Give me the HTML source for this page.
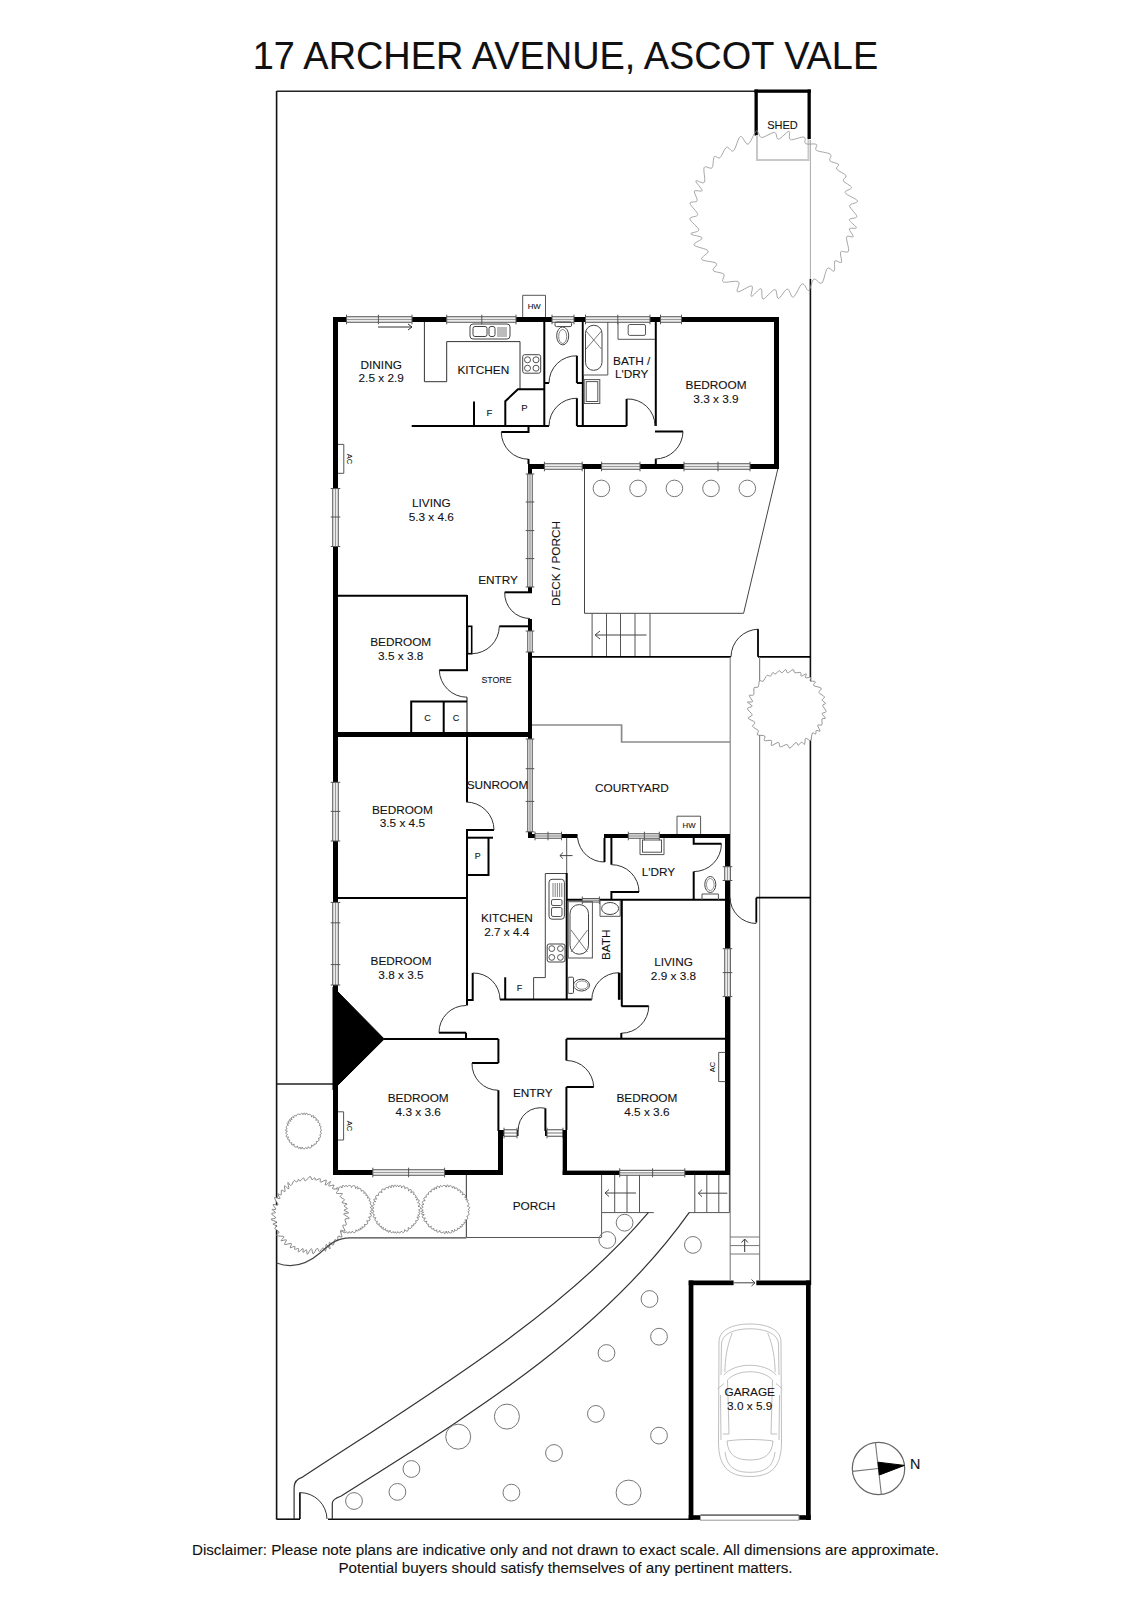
<!DOCTYPE html>
<html><head><meta charset="utf-8"><style>
html,body{margin:0;padding:0;background:#fff;}
body{width:1131px;height:1600px;overflow:hidden;}
svg{display:block;font-family:"Liberation Sans",sans-serif;}
text{stroke:#111;stroke-width:0.1px;paint-order:stroke;}
</style></head><body>
<svg width="1131" height="1600" viewBox="0 0 1131 1600">
<line x1="276.6" y1="91" x2="276.6" y2="1519.5" stroke="#111" stroke-width="1.6"/>
<line x1="276.6" y1="91.3" x2="756" y2="91.3" stroke="#222" stroke-width="1.4"/>
<line x1="810.4" y1="140" x2="810.4" y2="279" stroke="#aaa" stroke-width="1"/>
<line x1="810.4" y1="279" x2="810.4" y2="1285" stroke="#111" stroke-width="1.6"/>
<line x1="276.6" y1="1519.2" x2="300" y2="1519.2" stroke="#111" stroke-width="1.6"/>
<line x1="328" y1="1519.2" x2="689" y2="1519.2" stroke="#111" stroke-width="1.6"/>
<rect x="754.5" y="89.5" width="56.3" height="3.3" fill="#000"/>
<rect x="754.5" y="89.5" width="3.3" height="46.0" fill="#000"/>
<rect x="807.5" y="89.5" width="3.3" height="49.5" fill="#000"/>
<polyline points="757,135 757,160 808.5,160 808.5,139" fill="none" stroke="#c8c8c8" stroke-width="2" stroke-linejoin="miter"/>
<text x="782.5" y="128.7" font-size="11" text-anchor="middle" fill="#111">SHED</text>
<line x1="276.6" y1="1084" x2="333" y2="1084" stroke="#222" stroke-width="1.4"/>
<path d="M829.9,160.8 C831.3,162.5 837.3,162.9 838.5,164.3 C839.6,165.7 835.4,167.2 836.7,169.1 C837.9,171.0 844.8,173.7 846.0,175.6 C847.1,177.6 842.4,178.9 843.3,180.9 C844.2,182.8 851.2,185.5 851.5,187.5 C851.8,189.4 844.1,190.5 845.1,192.7 C846.1,195.0 856.8,198.8 857.6,201.0 C858.3,203.2 849.9,203.2 849.7,205.8 C849.6,208.4 856.8,214.1 856.8,216.5 C856.7,218.8 849.4,217.9 849.4,219.8 C849.3,221.7 856.4,226.2 856.4,227.7 C856.4,229.2 849.9,227.4 849.3,228.9 C848.8,230.4 853.7,235.3 853.3,236.7 C852.8,238.0 847.4,234.6 846.6,237.0 C845.8,239.4 849.5,248.8 848.5,251.2 C847.5,253.7 841.9,250.0 840.7,251.9 C839.5,253.7 842.4,260.8 841.5,262.3 C840.5,263.8 836.1,259.5 834.9,261.0 C833.7,262.5 835.4,269.9 834.1,271.1 C832.9,272.4 829.4,266.4 827.4,268.4 C825.3,270.4 824.1,281.2 821.8,283.0 C819.5,284.8 816.0,277.9 813.8,279.2 C811.6,280.4 810.6,289.8 808.7,290.5 C806.8,291.3 804.8,282.8 802.2,283.9 C799.6,285.0 795.8,296.2 793.3,297.1 C790.8,297.9 789.8,288.9 787.3,289.1 C784.8,289.3 780.5,298.4 778.4,298.5 C776.3,298.6 777.3,289.4 774.8,289.5 C772.2,289.6 765.5,299.0 763.2,298.9 C760.8,298.7 762.9,289.1 760.9,288.7 C758.9,288.3 752.9,296.8 751.4,296.3 C749.8,295.9 754.0,286.8 751.7,286.0 C749.4,285.3 739.8,292.5 737.6,291.8 C735.4,291.1 740.8,283.4 738.4,281.8 C736.0,280.1 725.7,283.2 723.3,281.9 C720.8,280.7 725.5,276.1 723.8,274.2 C722.2,272.3 714.5,272.4 713.2,270.5 C711.9,268.7 718.2,265.2 716.2,263.3 C714.3,261.4 702.9,261.4 701.6,259.3 C700.2,257.3 709.3,253.3 708.1,250.9 C706.8,248.5 695.0,247.1 694.0,245.0 C693.0,242.8 702.7,239.9 702.2,238.0 C701.7,236.2 691.4,235.3 690.8,233.9 C690.3,232.5 698.9,232.3 698.8,229.8 C698.6,227.2 690.0,221.4 689.9,218.8 C689.7,216.3 697.7,217.2 697.7,214.6 C697.8,212.1 690.1,205.6 690.0,203.3 C689.9,201.0 696.5,202.8 697.2,200.8 C697.9,198.8 693.6,192.9 694.4,191.2 C695.2,189.5 701.8,192.3 702.1,190.6 C702.3,188.9 695.4,182.3 695.8,180.9 C696.2,179.5 703.0,184.5 704.4,182.2 C705.8,180.0 702.9,169.9 704.2,167.5 C705.4,165.1 710.3,169.6 712.0,167.8 C713.6,166.0 712.9,158.4 714.3,156.7 C715.6,155.0 717.9,159.3 720.0,157.7 C722.0,156.2 724.3,148.5 726.5,147.3 C728.8,146.2 731.1,152.6 733.4,150.8 C735.8,149.0 738.0,137.6 740.4,136.5 C742.9,135.4 745.4,145.1 748.0,144.2 C750.7,143.3 754.2,132.1 756.4,131.0 C758.7,129.9 758.6,137.2 761.6,137.5 C764.6,137.7 771.6,132.2 774.4,132.4 C777.2,132.7 776.0,139.4 778.4,139.2 C780.9,139.0 786.9,131.3 788.9,131.4 C790.9,131.4 787.9,138.6 790.4,139.6 C792.9,140.5 801.5,136.4 804.0,137.1 C806.6,137.8 803.6,142.6 805.7,143.7 C807.7,144.9 814.6,143.2 816.4,144.3 C818.2,145.4 814.1,148.7 816.4,150.3 C818.7,151.9 828.0,152.4 830.2,154.2 C832.5,155.9 828.5,159.1 829.9,160.8Z" fill="none" stroke="#969696" stroke-width="0.85" stroke-linejoin="round"/>
<path d="M314.1,1144.0 L314.1,1144.6 L314.0,1145.0 L313.9,1145.4 L313.6,1145.6 L313.3,1145.8 L312.9,1145.8 L312.5,1145.7 L311.7,1145.0 L311.7,1146.1 L311.5,1146.9 L311.2,1147.5 L310.7,1147.9 L310.1,1147.9 L309.4,1147.8 L308.7,1147.3 L308.0,1146.8 L307.9,1147.6 L307.7,1148.1 L307.5,1148.5 L307.2,1148.6 L306.9,1148.6 L306.5,1148.4 L306.2,1148.0 L305.8,1147.5 L305.4,1148.1 L305.0,1148.5 L304.5,1148.7 L304.0,1148.8 L303.5,1148.7 L303.1,1148.5 L302.6,1148.1 L302.2,1147.1 L301.9,1148.0 L301.5,1148.6 L301.1,1149.0 L300.8,1149.1 L300.5,1148.9 L300.3,1148.5 L300.2,1147.8 L300.0,1147.0 L299.5,1147.7 L299.1,1148.1 L298.7,1148.3 L298.3,1148.3 L298.0,1148.0 L297.8,1147.6 L297.6,1147.1 L297.6,1146.1 L296.8,1146.7 L296.1,1147.0 L295.4,1147.1 L294.8,1146.9 L294.4,1146.5 L294.1,1145.9 L293.9,1145.1 L294.1,1144.0 L293.2,1144.6 L292.6,1144.9 L292.1,1145.0 L291.7,1144.9 L291.6,1144.5 L291.6,1144.0 L291.7,1143.4 L291.9,1142.7 L291.2,1142.8 L290.6,1142.8 L290.1,1142.6 L289.7,1142.3 L289.5,1141.9 L289.4,1141.3 L289.5,1140.7 L289.8,1140.0 L289.0,1140.0 L288.5,1139.9 L288.0,1139.7 L287.8,1139.4 L287.7,1139.0 L287.7,1138.5 L287.9,1137.9 L288.7,1137.2 L287.6,1137.2 L286.9,1137.0 L286.4,1136.8 L286.2,1136.4 L286.2,1136.0 L286.4,1135.5 L286.9,1135.0 L287.3,1134.5 L286.7,1134.2 L286.3,1133.8 L286.1,1133.5 L286.0,1133.0 L286.0,1132.6 L286.1,1132.2 L286.5,1131.8 L287.4,1131.3 L286.5,1131.0 L285.9,1130.7 L285.6,1130.4 L285.5,1130.0 L285.6,1129.7 L286.0,1129.4 L286.6,1129.1 L287.1,1128.9 L286.7,1128.3 L286.4,1127.8 L286.3,1127.2 L286.4,1126.7 L286.6,1126.2 L286.9,1125.8 L287.4,1125.4 L288.4,1125.2 L287.7,1124.7 L287.3,1124.2 L287.1,1123.8 L287.1,1123.4 L287.4,1123.2 L287.8,1123.1 L288.4,1123.1 L289.3,1123.2 L288.7,1122.5 L288.4,1122.0 L288.3,1121.5 L288.4,1121.1 L288.7,1120.9 L289.1,1120.8 L289.8,1120.9 L290.8,1121.2 L290.2,1120.4 L289.8,1119.8 L289.7,1119.3 L289.8,1119.0 L290.1,1118.9 L290.6,1118.9 L291.2,1119.2 L292.1,1119.6 L291.6,1118.7 L291.5,1118.1 L291.5,1117.5 L291.7,1117.2 L292.0,1117.1 L292.5,1117.1 L293.2,1117.4 L293.9,1117.8 L293.8,1117.0 L293.8,1116.4 L294.0,1115.9 L294.3,1115.6 L294.7,1115.5 L295.2,1115.5 L295.7,1115.8 L296.3,1116.1 L296.5,1115.4 L296.9,1114.8 L297.3,1114.4 L297.8,1114.2 L298.3,1114.1 L298.9,1114.1 L299.5,1114.3 L300.1,1114.7 L300.4,1114.2 L300.7,1113.8 L301.0,1113.5 L301.4,1113.4 L301.8,1113.4 L302.2,1113.6 L302.6,1113.9 L303.0,1114.6 L303.2,1113.9 L303.5,1113.4 L303.8,1113.1 L304.2,1113.0 L304.5,1113.1 L304.8,1113.4 L305.0,1113.9 L305.2,1114.7 L305.7,1114.0 L306.1,1113.6 L306.4,1113.3 L306.8,1113.3 L307.1,1113.4 L307.4,1113.8 L307.6,1114.3 L307.9,1114.9 L308.5,1114.6 L309.1,1114.4 L309.7,1114.4 L310.3,1114.6 L310.8,1114.9 L311.2,1115.3 L311.5,1115.8 L311.5,1116.9 L312.3,1116.2 L312.8,1115.8 L313.3,1115.7 L313.6,1115.7 L313.8,1116.0 L313.8,1116.5 L313.7,1117.2 L313.5,1117.9 L314.3,1117.6 L314.9,1117.5 L315.4,1117.6 L315.9,1117.8 L316.1,1118.2 L316.2,1118.7 L316.2,1119.4 L315.8,1120.3 L316.7,1120.0 L317.4,1119.9 L317.9,1120.0 L318.2,1120.3 L318.4,1120.7 L318.3,1121.2 L318.0,1121.8 L317.8,1122.4 L318.5,1122.5 L319.0,1122.7 L319.4,1123.0 L319.7,1123.4 L319.8,1123.9 L319.8,1124.4 L319.6,1124.9 L319.2,1125.6 L319.9,1125.7 L320.4,1125.9 L320.7,1126.2 L320.9,1126.6 L320.9,1127.0 L320.7,1127.4 L320.5,1127.8 L320.1,1128.2 L320.6,1128.6 L320.9,1129.0 L321.2,1129.5 L321.3,1130.0 L321.2,1130.4 L321.1,1130.9 L320.8,1131.4 L320.1,1131.8 L320.7,1132.3 L321.1,1132.7 L321.3,1133.1 L321.3,1133.6 L321.2,1134.0 L320.8,1134.3 L320.4,1134.7 L319.7,1134.9 L320.2,1135.5 L320.4,1136.0 L320.5,1136.6 L320.4,1137.0 L320.2,1137.4 L319.8,1137.8 L319.2,1138.0 L318.4,1138.1 L318.8,1138.9 L319.0,1139.6 L318.9,1140.2 L318.7,1140.7 L318.3,1141.1 L317.8,1141.4 L317.1,1141.5 L316.3,1141.5 L316.5,1142.3 L316.5,1142.9 L316.4,1143.4 L316.2,1143.8 L315.8,1144.0 L315.3,1144.1 L314.7,1144.1Z" fill="none" stroke="#777" stroke-width="0.9" stroke-linejoin="round"/>
<rect x="333" y="317" width="446" height="5" fill="#000"/>
<rect x="333" y="317" width="5" height="858" fill="#000"/>
<rect x="774" y="317" width="5" height="152" fill="#000"/>
<rect x="528" y="464" width="251" height="5" fill="#000"/>
<rect x="346.5" y="317" width="65.5" height="5" fill="#fff"/>
<rect x="346.5" y="316.2" width="65.5" height="1.1" fill="#5a5a5a"/>
<rect x="346.5" y="318.8" width="65.5" height="1.4" fill="#9a9a9a"/>
<rect x="346.5" y="321.7" width="65.5" height="1.1" fill="#5a5a5a"/>
<line x1="346.5" y1="314.7" x2="346.5" y2="324.3" stroke="#555" stroke-width="1"/>
<line x1="378.4" y1="314.7" x2="378.4" y2="324.3" stroke="#555" stroke-width="1"/>
<line x1="412" y1="314.7" x2="412" y2="324.3" stroke="#555" stroke-width="1"/>
<rect x="446.7" y="317" width="69.3" height="5" fill="#fff"/>
<rect x="446.7" y="316.2" width="69.3" height="1.1" fill="#5a5a5a"/>
<rect x="446.7" y="318.8" width="69.3" height="1.4" fill="#9a9a9a"/>
<rect x="446.7" y="321.7" width="69.3" height="1.1" fill="#5a5a5a"/>
<line x1="446.7" y1="314.7" x2="446.7" y2="324.3" stroke="#555" stroke-width="1"/>
<line x1="481.8" y1="314.7" x2="481.8" y2="324.3" stroke="#555" stroke-width="1"/>
<line x1="516" y1="314.7" x2="516" y2="324.3" stroke="#555" stroke-width="1"/>
<rect x="552" y="317" width="22" height="5" fill="#fff"/>
<rect x="552" y="316.2" width="22" height="1.1" fill="#5a5a5a"/>
<rect x="552" y="318.8" width="22" height="1.4" fill="#9a9a9a"/>
<rect x="552" y="321.7" width="22" height="1.1" fill="#5a5a5a"/>
<line x1="552" y1="314.7" x2="552" y2="324.3" stroke="#555" stroke-width="1"/>
<line x1="574" y1="314.7" x2="574" y2="324.3" stroke="#555" stroke-width="1"/>
<rect x="585.5" y="317" width="64.5" height="5" fill="#fff"/>
<rect x="585.5" y="316.2" width="64.5" height="1.1" fill="#5a5a5a"/>
<rect x="585.5" y="318.8" width="64.5" height="1.4" fill="#9a9a9a"/>
<rect x="585.5" y="321.7" width="64.5" height="1.1" fill="#5a5a5a"/>
<line x1="585.5" y1="314.7" x2="585.5" y2="324.3" stroke="#555" stroke-width="1"/>
<line x1="617.8" y1="314.7" x2="617.8" y2="324.3" stroke="#555" stroke-width="1"/>
<line x1="650" y1="314.7" x2="650" y2="324.3" stroke="#555" stroke-width="1"/>
<rect x="660.5" y="317" width="21.0" height="5" fill="#fff"/>
<rect x="660.5" y="316.2" width="21.0" height="1.1" fill="#5a5a5a"/>
<rect x="660.5" y="318.8" width="21.0" height="1.4" fill="#9a9a9a"/>
<rect x="660.5" y="321.7" width="21.0" height="1.1" fill="#5a5a5a"/>
<line x1="660.5" y1="314.7" x2="660.5" y2="324.3" stroke="#555" stroke-width="1"/>
<line x1="681.5" y1="314.7" x2="681.5" y2="324.3" stroke="#555" stroke-width="1"/>
<line x1="378" y1="327" x2="412" y2="327" stroke="#333" stroke-width="1"/>
<polyline points="408,324 412,327 408,330" fill="none" stroke="#333" stroke-width="1" stroke-linejoin="miter"/>
<polyline points="522.7,317 522.7,295.3 545.5,295.3 545.5,317" fill="none" stroke="#555" stroke-width="1" stroke-linejoin="miter"/>
<text x="534.2" y="308.8" font-size="7.8" text-anchor="middle" fill="#111">HW</text>
<rect x="544.4" y="464" width="37.8" height="5" fill="#fff"/>
<rect x="544.4" y="463.2" width="37.8" height="1.1" fill="#5a5a5a"/>
<rect x="544.4" y="465.8" width="37.8" height="1.4" fill="#9a9a9a"/>
<rect x="544.4" y="468.7" width="37.8" height="1.1" fill="#5a5a5a"/>
<line x1="544.4" y1="461.7" x2="544.4" y2="471.3" stroke="#555" stroke-width="1"/>
<line x1="582.2" y1="461.7" x2="582.2" y2="471.3" stroke="#555" stroke-width="1"/>
<rect x="601.6" y="464" width="38.4" height="5" fill="#fff"/>
<rect x="601.6" y="463.2" width="38.4" height="1.1" fill="#5a5a5a"/>
<rect x="601.6" y="465.8" width="38.4" height="1.4" fill="#9a9a9a"/>
<rect x="601.6" y="468.7" width="38.4" height="1.1" fill="#5a5a5a"/>
<line x1="601.6" y1="461.7" x2="601.6" y2="471.3" stroke="#555" stroke-width="1"/>
<line x1="640" y1="461.7" x2="640" y2="471.3" stroke="#555" stroke-width="1"/>
<rect x="684" y="464" width="66" height="5" fill="#fff"/>
<rect x="684" y="463.2" width="66" height="1.1" fill="#5a5a5a"/>
<rect x="684" y="465.8" width="66" height="1.4" fill="#9a9a9a"/>
<rect x="684" y="468.7" width="66" height="1.1" fill="#5a5a5a"/>
<line x1="684" y1="461.7" x2="684" y2="471.3" stroke="#555" stroke-width="1"/>
<line x1="718" y1="461.7" x2="718" y2="471.3" stroke="#555" stroke-width="1"/>
<line x1="750" y1="461.7" x2="750" y2="471.3" stroke="#555" stroke-width="1"/>
<rect x="333" y="488.5" width="5" height="58.0" fill="#fff"/>
<rect x="332.2" y="488.5" width="1.1" height="58.0" fill="#5a5a5a"/>
<rect x="334.8" y="488.5" width="1.4" height="58.0" fill="#9a9a9a"/>
<rect x="337.7" y="488.5" width="1.1" height="58.0" fill="#5a5a5a"/>
<line x1="330.7" y1="488.5" x2="340.3" y2="488.5" stroke="#555" stroke-width="1"/>
<line x1="330.7" y1="517" x2="340.3" y2="517" stroke="#555" stroke-width="1"/>
<line x1="330.7" y1="546.5" x2="340.3" y2="546.5" stroke="#555" stroke-width="1"/>
<polyline points="338,444.4 343.8,444.4 343.8,473.3 338,473.3" fill="none" stroke="#555" stroke-width="1" stroke-linejoin="miter"/>
<text x="347" y="459" font-size="7.5" text-anchor="middle" fill="#111" transform="rotate(90 347 459)">AC</text>
<line x1="544.3" y1="322" x2="544.3" y2="426" stroke="#000" stroke-width="2"/>
<line x1="582.8" y1="322" x2="582.8" y2="426" stroke="#000" stroke-width="2"/>
<line x1="655.8" y1="322" x2="655.8" y2="426" stroke="#000" stroke-width="2"/>
<line x1="655.8" y1="459" x2="655.8" y2="464" stroke="#000" stroke-width="2"/>
<line x1="411.7" y1="426" x2="549" y2="426" stroke="#000" stroke-width="2.2"/>
<line x1="576.9" y1="426" x2="626.6" y2="426" stroke="#000" stroke-width="2"/>
<line x1="576.9" y1="398.2" x2="576.9" y2="426" stroke="#000" stroke-width="2"/>
<line x1="576.9" y1="355.8" x2="576.9" y2="383" stroke="#000" stroke-width="2"/>
<line x1="544" y1="383" x2="549" y2="383" stroke="#000" stroke-width="2"/>
<line x1="576.9" y1="383" x2="582.8" y2="383" stroke="#000" stroke-width="2"/>
<line x1="626.6" y1="399" x2="626.6" y2="426" stroke="#000" stroke-width="2"/>
<path d="M576.9,355.8 A27.20,27.20 0 0 0 549,383" fill="none" stroke="#333" stroke-width="1"/>
<path d="M576.9,398.2 A27.80,27.80 0 0 0 549,426" fill="none" stroke="#333" stroke-width="1"/>
<path d="M626.6,399 A27.00,27.00 0 0 1 655,426" fill="none" stroke="#333" stroke-width="1"/>
<line x1="655" y1="431.5" x2="683" y2="431.5" stroke="#000" stroke-width="2"/>
<path d="M683,431.5 A28.00,28.00 0 0 1 655,459" fill="none" stroke="#333" stroke-width="1"/>
<polyline points="528.5,426 528.5,432 501.3,432" fill="none" stroke="#000" stroke-width="2" stroke-linejoin="miter"/>
<path d="M501.3,432 A27.20,27.20 0 0 0 528.5,459.2" fill="none" stroke="#333" stroke-width="1"/>
<line x1="528.5" y1="459" x2="528.5" y2="464" stroke="#000" stroke-width="2"/>
<polyline points="424.4,322 424.4,381.7 446.7,381.7 446.7,341.6 520,341.6 520,389" fill="none" stroke="#333" stroke-width="1" stroke-linejoin="miter"/>
<polyline points="544,389.3 517.9,389.3 505.3,401.2 505.3,426" fill="none" stroke="#000" stroke-width="2" stroke-linejoin="miter"/>
<line x1="474" y1="401.5" x2="474" y2="426" stroke="#000" stroke-width="2"/>
<rect x="470" y="324" width="40" height="15" rx="3" fill="none" stroke="#444" stroke-width="1"/>
<rect x="473" y="326.5" width="14" height="10" rx="2" fill="none" stroke="#444" stroke-width="1"/>
<rect x="489" y="326.5" width="6" height="10" rx="2" fill="none" stroke="#444" stroke-width="1"/>
<line x1="497" y1="328" x2="507" y2="328" stroke="#555" stroke-width="0.8"/>
<line x1="497" y1="330" x2="507" y2="330" stroke="#555" stroke-width="0.8"/>
<line x1="497" y1="332" x2="507" y2="332" stroke="#555" stroke-width="0.8"/>
<line x1="497" y1="334" x2="507" y2="334" stroke="#555" stroke-width="0.8"/>
<line x1="497" y1="336" x2="507" y2="336" stroke="#555" stroke-width="0.8"/>
<rect x="522.7" y="354.7" width="18" height="18.5" rx="2" fill="none" stroke="#444" stroke-width="1"/>
<circle cx="527.5" cy="359.8" r="3" fill="none" stroke="#444" stroke-width="0.9"/>
<circle cx="527.5" cy="368.2" r="3" fill="none" stroke="#444" stroke-width="0.9"/>
<circle cx="536" cy="359.8" r="3" fill="none" stroke="#444" stroke-width="0.9"/>
<circle cx="536" cy="368.2" r="3" fill="none" stroke="#444" stroke-width="0.9"/>
<rect x="555" y="322" width="16.6" height="4.6" rx="1.5" fill="none" stroke="#444" stroke-width="1"/>
<ellipse cx="562.7" cy="335.9" rx="6" ry="9" fill="none" stroke="#444" stroke-width="1"/>
<ellipse cx="562.7" cy="336.5" rx="4" ry="7" fill="none" stroke="#666" stroke-width="0.8"/>
<polyline points="583.5,322 583.5,375 607.8,375 607.8,322" fill="none" stroke="#555" stroke-width="1" stroke-linejoin="miter"/>
<rect x="585.5" y="325.3" width="16.5" height="45" rx="8" fill="none" stroke="#444" stroke-width="1"/>
<line x1="586" y1="331" x2="601.5" y2="349" stroke="#555" stroke-width="0.8"/>
<line x1="601.5" y1="331" x2="586" y2="349" stroke="#555" stroke-width="0.8"/>
<rect x="584.2" y="379.6" width="15.6" height="23.9" fill="none" stroke="#555" stroke-width="1"/>
<rect x="586.2" y="381.6" width="11.6" height="19.9" fill="none" stroke="#555" stroke-width="1"/>
<polyline points="618,322 618,339.3 655,339.3" fill="none" stroke="#555" stroke-width="1" stroke-linejoin="miter"/>
<rect x="628.2" y="324.5" width="17.3" height="10.9" rx="1.5" fill="none" stroke="#555" stroke-width="1"/>
<text x="381.2" y="368.5" font-size="11.8" text-anchor="middle" fill="#111">DINING</text>
<text x="381.2" y="382.3" font-size="11.8" text-anchor="middle" fill="#111">2.5 x 2.9</text>
<text x="483.3" y="374.2" font-size="11.8" text-anchor="middle" fill="#111">KITCHEN</text>
<text x="489.5" y="416" font-size="9.5" text-anchor="middle" fill="#111">F</text>
<text x="524.5" y="410.5" font-size="9.5" text-anchor="middle" fill="#111">P</text>
<text x="631.7" y="365.2" font-size="11.8" text-anchor="middle" fill="#111">BATH /</text>
<text x="631.7" y="378.4" font-size="11.8" text-anchor="middle" fill="#111">L'DRY</text>
<text x="716" y="389.3" font-size="11.8" text-anchor="middle" fill="#111">BEDROOM</text>
<text x="716" y="402.90000000000003" font-size="11.8" text-anchor="middle" fill="#111">3.3 x 3.9</text>
<text x="431.3" y="507.2" font-size="11.8" text-anchor="middle" fill="#111">LIVING</text>
<text x="431.3" y="521.2" font-size="11.8" text-anchor="middle" fill="#111">5.3 x 4.6</text>
<text x="498.1" y="583.7" font-size="11.8" text-anchor="middle" fill="#111">ENTRY</text>
<rect x="528" y="464" width="4" height="275" fill="#000"/>
<rect x="528" y="474" width="4" height="113" fill="#fff"/>
<rect x="527.2" y="474" width="1.1" height="113" fill="#5a5a5a"/>
<rect x="529.3" y="474" width="1.4" height="113" fill="#9a9a9a"/>
<rect x="531.7" y="474" width="1.1" height="113" fill="#5a5a5a"/>
<line x1="525.7" y1="474" x2="534.3" y2="474" stroke="#555" stroke-width="1"/>
<line x1="525.7" y1="502" x2="534.3" y2="502" stroke="#555" stroke-width="1"/>
<line x1="525.7" y1="530.6" x2="534.3" y2="530.6" stroke="#555" stroke-width="1"/>
<line x1="525.7" y1="558.6" x2="534.3" y2="558.6" stroke="#555" stroke-width="1"/>
<line x1="525.7" y1="587" x2="534.3" y2="587" stroke="#555" stroke-width="1"/>
<rect x="528" y="592" width="4" height="27" fill="#fff"/>
<line x1="504.7" y1="592.3" x2="532" y2="592.3" stroke="#000" stroke-width="2"/>
<path d="M504.7,592.3 A25.30,25.30 0 0 0 530,618.5" fill="none" stroke="#333" stroke-width="1"/>
<rect x="528" y="631" width="4" height="21" fill="#fff"/>
<rect x="527.2" y="631" width="1.1" height="21" fill="#5a5a5a"/>
<rect x="529.3" y="631" width="1.4" height="21" fill="#9a9a9a"/>
<rect x="531.7" y="631" width="1.1" height="21" fill="#5a5a5a"/>
<line x1="525.7" y1="631" x2="534.3" y2="631" stroke="#555" stroke-width="1"/>
<line x1="525.7" y1="652" x2="534.3" y2="652" stroke="#555" stroke-width="1"/>
<polyline points="584.5,469 584.5,613.3 743.6,613.3 777.8,469" fill="none" stroke="#444" stroke-width="1" stroke-linejoin="miter"/>
<circle cx="601.4" cy="488.4" r="8.3" fill="none" stroke="#777" stroke-width="1"/>
<circle cx="638" cy="488.4" r="8.3" fill="none" stroke="#777" stroke-width="1"/>
<circle cx="674.4" cy="488.4" r="8.3" fill="none" stroke="#777" stroke-width="1"/>
<circle cx="711" cy="488.4" r="8.3" fill="none" stroke="#777" stroke-width="1"/>
<circle cx="747.3" cy="488.4" r="8.3" fill="none" stroke="#777" stroke-width="1"/>
<line x1="592.1" y1="613.3" x2="592.1" y2="656.5" stroke="#555" stroke-width="1"/>
<line x1="606.5" y1="613.3" x2="606.5" y2="656.5" stroke="#555" stroke-width="1"/>
<line x1="620.5" y1="613.3" x2="620.5" y2="656.5" stroke="#555" stroke-width="1"/>
<line x1="635" y1="613.3" x2="635" y2="656.5" stroke="#555" stroke-width="1"/>
<line x1="650" y1="613.3" x2="650" y2="656.5" stroke="#555" stroke-width="1"/>
<line x1="596" y1="635" x2="646.5" y2="635" stroke="#444" stroke-width="1"/>
<polyline points="600,631 595,635 600,639" fill="none" stroke="#444" stroke-width="1" stroke-linejoin="miter"/>
<text x="559.8" y="563.5" font-size="11.8" text-anchor="middle" fill="#111" transform="rotate(-90 559.8 563.5)">DECK / PORCH</text>
<line x1="338" y1="595.8" x2="467" y2="595.8" stroke="#000" stroke-width="2"/>
<line x1="467" y1="595" x2="467" y2="670.2" stroke="#000" stroke-width="2"/>
<rect x="467.5" y="626.3" width="4.2" height="27.4" fill="none" stroke="#000" stroke-width="1.6"/>
<line x1="499.3" y1="626.3" x2="528" y2="626.3" stroke="#000" stroke-width="2"/>
<path d="M499.3,626.3 A27.60,27.60 0 0 1 471.7,653.7" fill="none" stroke="#333" stroke-width="1"/>
<line x1="439.3" y1="670.2" x2="468" y2="670.2" stroke="#000" stroke-width="2"/>
<path d="M439.3,670.2 A27.70,27.70 0 0 0 467,697.2" fill="none" stroke="#333" stroke-width="1"/>
<line x1="467" y1="697.2" x2="467" y2="735" stroke="#333" stroke-width="1.2"/>
<polyline points="411.2,735 411.2,701.4 467,701.4" fill="none" stroke="#000" stroke-width="2" stroke-linejoin="miter"/>
<line x1="443.7" y1="701.4" x2="443.7" y2="735" stroke="#000" stroke-width="2"/>
<text x="427.5" y="720.8" font-size="9" text-anchor="middle" fill="#111">C</text>
<text x="456" y="720.8" font-size="9" text-anchor="middle" fill="#111">C</text>
<text x="400.7" y="646.2" font-size="11.8" text-anchor="middle" fill="#111">BEDROOM</text>
<text x="400.7" y="659.6" font-size="11.8" text-anchor="middle" fill="#111">3.5 x 3.8</text>
<text x="496.5" y="683" font-size="8.8" text-anchor="middle" fill="#111">STORE</text>
<rect x="333" y="732" width="199" height="5" fill="#000"/>
<line x1="532" y1="656.8" x2="731" y2="656.8" stroke="#000" stroke-width="1.8"/>
<path d="M731,656.8 A28,28 0 0 1 758.5,629.2" fill="none" stroke="#333" stroke-width="1"/>
<line x1="758" y1="629.2" x2="758" y2="656.8" stroke="#000" stroke-width="1.8"/>
<line x1="758" y1="656.8" x2="810.4" y2="656.8" stroke="#000" stroke-width="1.8"/>
<line x1="730.2" y1="657" x2="730.2" y2="1280" stroke="#888" stroke-width="1.2"/>
<line x1="759.6" y1="657" x2="759.6" y2="1280" stroke="#888" stroke-width="1.2"/>
<polyline points="532,725 621.6,725 621.6,742 730,742" fill="none" stroke="#8a8a8a" stroke-width="1.7" stroke-linejoin="miter"/>
<path d="M778.5,742.4 C777.0,742.1 772.8,745.8 771.6,745.5 C770.4,745.2 772.5,741.3 771.3,740.5 C770.1,739.7 765.5,741.4 764.4,740.6 C763.3,739.9 765.8,737.0 764.7,736.0 C763.5,735.0 758.5,735.7 757.4,734.8 C756.4,733.9 759.1,732.0 758.3,730.6 C757.5,729.3 753.2,727.8 752.7,726.4 C752.1,725.0 755.6,723.6 754.8,722.3 C754.1,720.9 748.6,719.5 748.2,718.3 C747.7,717.1 752.3,716.4 752.2,714.8 C752.0,713.2 747.4,710.2 747.4,708.7 C747.4,707.2 752.1,707.2 752.2,706.1 C752.2,705.0 747.4,702.9 747.4,702.1 C747.5,701.4 752.3,702.7 752.6,701.6 C752.9,700.5 749.1,696.7 749.2,695.5 C749.4,694.4 752.8,696.2 753.6,694.9 C754.4,693.6 753.4,689.0 754.1,687.7 C754.9,686.4 757.2,688.2 758.1,687.0 C759.0,685.9 758.7,681.8 759.5,680.8 C760.3,679.9 761.8,682.0 763.1,681.2 C764.3,680.3 765.7,676.3 766.9,675.5 C768.2,674.6 769.5,676.6 770.5,676.1 C771.5,675.6 772.1,672.9 772.9,672.5 C773.7,672.2 774.0,674.3 775.1,674.0 C776.2,673.7 778.2,671.0 779.4,670.8 C780.5,670.6 780.8,673.0 781.9,672.8 C782.9,672.6 784.8,669.6 785.7,669.6 C786.7,669.6 786.3,672.9 787.5,672.9 C788.8,672.9 791.9,669.6 793.1,669.5 C794.3,669.5 793.6,672.2 794.8,672.7 C796.0,673.2 799.3,672.0 800.4,672.5 C801.5,673.1 800.4,675.9 801.3,676.1 C802.3,676.3 805.4,673.6 806.2,673.9 C806.9,674.1 804.9,677.1 805.6,677.7 C806.4,678.3 809.9,677.0 810.6,677.5 C811.4,678.0 809.4,680.2 810.2,680.9 C811.0,681.6 814.7,680.9 815.2,681.7 C815.8,682.5 812.7,684.5 813.7,685.6 C814.7,686.6 820.3,687.0 821.2,688.2 C822.1,689.3 818.5,691.1 819.0,692.6 C819.6,694.0 823.9,695.6 824.4,696.9 C825.0,698.1 821.9,699.1 822.1,700.2 C822.3,701.3 825.5,702.6 825.6,703.5 C825.7,704.3 822.6,704.1 822.7,705.4 C822.7,706.8 826.2,710.1 826.1,711.5 C826.0,712.9 822.1,712.6 822.0,713.7 C821.9,714.8 825.4,717.3 825.4,718.2 C825.4,719.1 822.6,717.9 822.0,719.0 C821.4,720.1 822.6,723.7 821.9,724.8 C821.1,725.8 818.0,724.2 817.7,725.2 C817.4,726.3 820.3,730.2 820.1,731.1 C819.9,732.0 817.1,729.9 816.3,730.4 C815.6,730.9 816.3,733.7 815.6,734.1 C815.0,734.5 813.3,731.9 812.4,733.0 C811.6,734.1 811.6,739.6 810.5,740.5 C809.4,741.3 806.7,737.6 805.7,738.3 C804.7,738.9 805.2,743.7 804.5,744.3 C803.8,745.0 802.5,741.9 801.5,742.1 C800.5,742.2 799.3,745.1 798.3,745.2 C797.4,745.3 797.2,742.1 795.8,742.6 C794.4,743.1 791.4,747.8 789.9,748.1 C788.4,748.5 788.5,744.7 786.9,744.5 C785.2,744.3 781.6,747.3 780.2,746.9 C778.8,746.6 779.9,742.6 778.5,742.4Z" fill="#fff" stroke="#888" stroke-width="0.9" stroke-linejoin="round"/>
<text x="631.9" y="791.5" font-size="11.8" text-anchor="middle" fill="#111">COURTYARD</text>
<rect x="528" y="737" width="4" height="101" fill="#000"/>
<rect x="528" y="739" width="4" height="92.8" fill="#fff"/>
<rect x="527.2" y="739" width="1.1" height="92.8" fill="#5a5a5a"/>
<rect x="529.3" y="739" width="1.4" height="92.8" fill="#9a9a9a"/>
<rect x="531.7" y="739" width="1.1" height="92.8" fill="#5a5a5a"/>
<line x1="525.7" y1="739" x2="534.3" y2="739" stroke="#555" stroke-width="1"/>
<line x1="525.7" y1="768.7" x2="534.3" y2="768.7" stroke="#555" stroke-width="1"/>
<line x1="525.7" y1="801.4" x2="534.3" y2="801.4" stroke="#555" stroke-width="1"/>
<line x1="525.7" y1="831.8" x2="534.3" y2="831.8" stroke="#555" stroke-width="1"/>
<rect x="528" y="834" width="202" height="4" fill="#000"/>
<rect x="535" y="834" width="26.5" height="4" fill="#fff"/>
<rect x="535" y="833.2" width="26.5" height="1.1" fill="#5a5a5a"/>
<rect x="535" y="835.3" width="26.5" height="1.4" fill="#9a9a9a"/>
<rect x="535" y="837.7" width="26.5" height="1.1" fill="#5a5a5a"/>
<line x1="535" y1="831.7" x2="535" y2="840.3" stroke="#555" stroke-width="1"/>
<line x1="548" y1="831.7" x2="548" y2="840.3" stroke="#555" stroke-width="1"/>
<line x1="561.5" y1="831.7" x2="561.5" y2="840.3" stroke="#555" stroke-width="1"/>
<rect x="577.6" y="834" width="26.4" height="4" fill="#fff"/>
<rect x="628.3" y="834" width="31.0" height="4" fill="#fff"/>
<rect x="628.3" y="833.2" width="31.0" height="1.1" fill="#5a5a5a"/>
<rect x="628.3" y="835.3" width="31.0" height="1.4" fill="#9a9a9a"/>
<rect x="628.3" y="837.7" width="31.0" height="1.1" fill="#5a5a5a"/>
<line x1="628.3" y1="831.7" x2="628.3" y2="840.3" stroke="#555" stroke-width="1"/>
<line x1="644.4" y1="831.7" x2="644.4" y2="840.3" stroke="#555" stroke-width="1"/>
<line x1="659.3" y1="831.7" x2="659.3" y2="840.3" stroke="#555" stroke-width="1"/>
<path d="M577.6,838 A26.90,26.90 0 0 0 604.5,862" fill="none" stroke="#333" stroke-width="1"/>
<line x1="604.5" y1="838" x2="604.5" y2="862" stroke="#000" stroke-width="2"/>
<rect x="725" y="834" width="5" height="341" fill="#000"/>
<rect x="725" y="866.7" width="5" height="13.8" fill="#fff"/>
<rect x="724.2" y="866.7" width="1.1" height="13.8" fill="#5a5a5a"/>
<rect x="726.8" y="866.7" width="1.4" height="13.8" fill="#9a9a9a"/>
<rect x="729.7" y="866.7" width="1.1" height="13.8" fill="#5a5a5a"/>
<line x1="722.7" y1="866.7" x2="732.3" y2="866.7" stroke="#555" stroke-width="1"/>
<line x1="722.7" y1="880.5" x2="732.3" y2="880.5" stroke="#555" stroke-width="1"/>
<rect x="725" y="948.7" width="5" height="47.9" fill="#fff"/>
<rect x="724.2" y="948.7" width="1.1" height="47.9" fill="#5a5a5a"/>
<rect x="726.8" y="948.7" width="1.4" height="47.9" fill="#9a9a9a"/>
<rect x="729.7" y="948.7" width="1.1" height="47.9" fill="#5a5a5a"/>
<line x1="722.7" y1="948.7" x2="732.3" y2="948.7" stroke="#555" stroke-width="1"/>
<line x1="722.7" y1="972.6" x2="732.3" y2="972.6" stroke="#555" stroke-width="1"/>
<line x1="722.7" y1="996.6" x2="732.3" y2="996.6" stroke="#555" stroke-width="1"/>
<polyline points="677,834 677,816.2 700.6,816.2 700.6,834" fill="none" stroke="#555" stroke-width="1" stroke-linejoin="miter"/>
<text x="689" y="827.6" font-size="7.8" text-anchor="middle" fill="#111">HW</text>
<path d="M730,897.7 A26.5,26.5 0 0 0 756.3,923.5" fill="none" stroke="#333" stroke-width="1"/>
<line x1="756.3" y1="897.7" x2="756.3" y2="922.6" stroke="#000" stroke-width="1.8"/>
<line x1="756.3" y1="897.7" x2="810.4" y2="897.7" stroke="#000" stroke-width="1.8"/>
<rect x="333" y="782.3" width="5" height="58.7" fill="#fff"/>
<rect x="332.2" y="782.3" width="1.1" height="58.7" fill="#5a5a5a"/>
<rect x="334.8" y="782.3" width="1.4" height="58.7" fill="#9a9a9a"/>
<rect x="337.7" y="782.3" width="1.1" height="58.7" fill="#5a5a5a"/>
<line x1="330.7" y1="782.3" x2="340.3" y2="782.3" stroke="#555" stroke-width="1"/>
<line x1="330.7" y1="811.4" x2="340.3" y2="811.4" stroke="#555" stroke-width="1"/>
<line x1="330.7" y1="841" x2="340.3" y2="841" stroke="#555" stroke-width="1"/>
<rect x="333" y="902.4" width="5" height="82.6" fill="#fff"/>
<rect x="332.2" y="902.4" width="1.1" height="82.6" fill="#5a5a5a"/>
<rect x="334.8" y="902.4" width="1.4" height="82.6" fill="#9a9a9a"/>
<rect x="337.7" y="902.4" width="1.1" height="82.6" fill="#5a5a5a"/>
<line x1="330.7" y1="902.4" x2="340.3" y2="902.4" stroke="#555" stroke-width="1"/>
<line x1="330.7" y1="922.8" x2="340.3" y2="922.8" stroke="#555" stroke-width="1"/>
<line x1="330.7" y1="964.6" x2="340.3" y2="964.6" stroke="#555" stroke-width="1"/>
<line x1="330.7" y1="985" x2="340.3" y2="985" stroke="#555" stroke-width="1"/>
<line x1="467" y1="737" x2="467" y2="802" stroke="#000" stroke-width="2"/>
<line x1="466" y1="830" x2="494" y2="830" stroke="#000" stroke-width="2"/>
<path d="M494,830 A28.00,28.00 0 0 0 466,802" fill="none" stroke="#333" stroke-width="1"/>
<polyline points="466,837.7 493,837.7" fill="none" stroke="#000" stroke-width="2" stroke-linejoin="miter"/>
<polyline points="488.5,837.7 488.5,875 466,875" fill="none" stroke="#000" stroke-width="2" stroke-linejoin="miter"/>
<text x="477.6" y="858.6" font-size="8.8" text-anchor="middle" fill="#111">P</text>
<line x1="467" y1="830" x2="467" y2="1005.5" stroke="#000" stroke-width="2"/>
<text x="497.5" y="789.1" font-size="11.8" text-anchor="middle" fill="#111">SUNROOM</text>
<text x="402.4" y="814.0" font-size="11.8" text-anchor="middle" fill="#111">BEDROOM</text>
<text x="402.4" y="827.4" font-size="11.8" text-anchor="middle" fill="#111">3.5 x 4.5</text>
<line x1="338" y1="898" x2="467" y2="898" stroke="#000" stroke-width="2"/>
<text x="401" y="964.8" font-size="11.8" text-anchor="middle" fill="#111">BEDROOM</text>
<text x="401" y="978.5999999999999" font-size="11.8" text-anchor="middle" fill="#111">3.8 x 3.5</text>
<text x="506.8" y="922.4" font-size="11.8" text-anchor="middle" fill="#111">KITCHEN</text>
<text x="506.8" y="936.1999999999999" font-size="11.8" text-anchor="middle" fill="#111">2.7 x 4.4</text>
<line x1="566.7" y1="838" x2="566.7" y2="873" stroke="#555" stroke-width="1"/>
<line x1="559.9" y1="855.6" x2="572.5" y2="855.6" stroke="#444" stroke-width="1"/>
<polyline points="563,852.5 559.9,855.6 563,858.7" fill="none" stroke="#444" stroke-width="1" stroke-linejoin="miter"/>
<polyline points="566.7,873.5 545.3,873.5 545.3,977.6 533.6,977.6 533.6,999" fill="none" stroke="#444" stroke-width="1" stroke-linejoin="miter"/>
<rect x="549" y="879.3" width="15.4" height="39.9" rx="3" fill="none" stroke="#444" stroke-width="1"/>
<line x1="553" y1="883" x2="553" y2="897" stroke="#666" stroke-width="0.8"/>
<line x1="555.2" y1="883" x2="555.2" y2="897" stroke="#666" stroke-width="0.8"/>
<line x1="557.4" y1="883" x2="557.4" y2="897" stroke="#666" stroke-width="0.8"/>
<line x1="559.6" y1="883" x2="559.6" y2="897" stroke="#666" stroke-width="0.8"/>
<line x1="561.8" y1="883" x2="561.8" y2="897" stroke="#666" stroke-width="0.8"/>
<rect x="551.5" y="899.5" width="10.5" height="6" rx="1.5" fill="none" stroke="#444" stroke-width="0.9"/>
<rect x="551.5" y="907.5" width="10.5" height="9" rx="1.5" fill="none" stroke="#444" stroke-width="0.9"/>
<rect x="547.2" y="944" width="17.8" height="18" rx="2" fill="none" stroke="#444" stroke-width="1"/>
<circle cx="551.8" cy="948.6" r="2.9" fill="none" stroke="#444" stroke-width="0.9"/>
<circle cx="551.8" cy="957.4" r="2.9" fill="none" stroke="#444" stroke-width="0.9"/>
<circle cx="560.4" cy="948.6" r="2.9" fill="none" stroke="#444" stroke-width="0.9"/>
<circle cx="560.4" cy="957.4" r="2.9" fill="none" stroke="#444" stroke-width="0.9"/>
<line x1="566.7" y1="873" x2="566.7" y2="1000" stroke="#000" stroke-width="2"/>
<polyline points="466,1000 472.7,1000 472.7,973" fill="none" stroke="#000" stroke-width="2" stroke-linejoin="miter"/>
<path d="M472.7,973 A26.60,26.60 0 0 1 500,999.6" fill="none" stroke="#333" stroke-width="1"/>
<line x1="500" y1="999.6" x2="591.8" y2="999.6" stroke="#000" stroke-width="2"/>
<line x1="505.2" y1="977.3" x2="505.2" y2="1000" stroke="#000" stroke-width="2"/>
<text x="519.6" y="990.6" font-size="9" text-anchor="middle" fill="#111">F</text>
<line x1="466" y1="1032.7" x2="466" y2="1039" stroke="#000" stroke-width="2"/>
<line x1="439" y1="1032.7" x2="466" y2="1032.7" stroke="#000" stroke-width="2"/>
<path d="M439,1032.7 A27.00,27.00 0 0 1 466,1005.5" fill="none" stroke="#333" stroke-width="1"/>
<line x1="566.7" y1="899.8" x2="726" y2="899.8" stroke="#000" stroke-width="2"/>
<rect x="582.3" y="898.8" width="17.1" height="3.0" fill="#fff"/>
<rect x="582.3" y="898.0" width="17.1" height="1.1" fill="#5a5a5a"/>
<rect x="582.3" y="899.5999999999999" width="17.1" height="1.4" fill="#9a9a9a"/>
<rect x="582.3" y="901.5" width="17.1" height="1.1" fill="#5a5a5a"/>
<line x1="582.3" y1="896.5" x2="582.3" y2="904.0999999999999" stroke="#555" stroke-width="1"/>
<line x1="599.4" y1="896.5" x2="599.4" y2="904.0999999999999" stroke="#555" stroke-width="1"/>
<rect x="568.2" y="901.7" width="24.2" height="56.3" fill="none" stroke="#555" stroke-width="1"/>
<rect x="570" y="904.6" width="18.5" height="49.6" rx="9" fill="none" stroke="#444" stroke-width="1"/>
<line x1="571" y1="930" x2="587.5" y2="952" stroke="#555" stroke-width="0.8"/>
<line x1="587.5" y1="930" x2="571" y2="952" stroke="#555" stroke-width="0.8"/>
<polyline points="600,900.7 600,916.3 620.2,916.3 620.2,900.7" fill="none" stroke="#555" stroke-width="1" stroke-linejoin="miter"/>
<ellipse cx="610.1" cy="908.5" rx="8.5" ry="6" fill="none" stroke="#444" stroke-width="1"/>
<text x="609.9" y="944.8" font-size="11.8" text-anchor="middle" fill="#111" transform="rotate(-90 609.9 944.8)">BATH</text>
<rect x="568" y="977.2" width="5.5" height="16.2" rx="1" fill="none" stroke="#444" stroke-width="1"/>
<ellipse cx="581.5" cy="985.1" rx="8" ry="5.9" fill="none" stroke="#444" stroke-width="1"/>
<ellipse cx="582" cy="985.1" rx="6" ry="4.2" fill="none" stroke="#666" stroke-width="0.8"/>
<line x1="621.8" y1="899.8" x2="621.8" y2="1006.2" stroke="#000" stroke-width="2"/>
<rect x="617.9" y="972.7" width="2.6" height="27.1" fill="#000"/>
<path d="M618.9,972.7 A27.10,27.10 0 0 0 591.8,999.8" fill="none" stroke="#333" stroke-width="1"/>
<line x1="621.3" y1="1006.2" x2="648.8" y2="1006.2" stroke="#000" stroke-width="2"/>
<path d="M648.8,1006.2 A27.50,27.50 0 0 1 621.3,1033.2" fill="none" stroke="#333" stroke-width="1"/>
<line x1="621.3" y1="1033" x2="621.3" y2="1039" stroke="#000" stroke-width="2"/>
<text x="673.5" y="965.5" font-size="11.8" text-anchor="middle" fill="#111">LIVING</text>
<text x="673.5" y="979.5" font-size="11.8" text-anchor="middle" fill="#111">2.9 x 3.8</text>
<line x1="611.4" y1="838" x2="611.4" y2="864.7" stroke="#000" stroke-width="2"/>
<path d="M611.4,864.7 A27.30,27.30 0 0 1 639,892" fill="none" stroke="#333" stroke-width="1"/>
<polyline points="639,892 611.4,892 611.4,900" fill="none" stroke="#000" stroke-width="2" stroke-linejoin="miter"/>
<polyline points="640,838 640,854.6 664,854.6 664,838" fill="none" stroke="#555" stroke-width="1" stroke-linejoin="miter"/>
<rect x="642.5" y="840" width="19" height="12.2" fill="none" stroke="#555" stroke-width="1"/>
<polyline points="693.7,838 693.7,843.7 721.4,843.7" fill="none" stroke="#000" stroke-width="2" stroke-linejoin="miter"/>
<path d="M721.4,843.7 A27.70,27.70 0 0 1 693.7,871.6" fill="none" stroke="#333" stroke-width="1"/>
<line x1="693.7" y1="871.6" x2="693.7" y2="900" stroke="#000" stroke-width="2"/>
<ellipse cx="710.3" cy="884.5" rx="5.5" ry="8" fill="none" stroke="#444" stroke-width="1"/>
<ellipse cx="710.3" cy="884.5" rx="3.8" ry="6" fill="none" stroke="#777" stroke-width="0.8"/>
<polyline points="702,900 702,894 718.4,894 718.4,900" fill="none" stroke="#555" stroke-width="1" stroke-linejoin="miter"/>
<text x="658.4" y="875.7" font-size="11.8" text-anchor="middle" fill="#111">L'DRY</text>
<polygon points="333,987 384.2,1039 333,1090" fill="#000" stroke="#000" stroke-width="1" stroke-linejoin="miter"/>
<line x1="384" y1="1039" x2="498.4" y2="1039" stroke="#000" stroke-width="2"/>
<line x1="498.4" y1="1039" x2="498.4" y2="1063" stroke="#000" stroke-width="2"/>
<line x1="472" y1="1063" x2="498.4" y2="1063" stroke="#000" stroke-width="2"/>
<path d="M472,1063 A26.40,26.40 0 0 0 498.4,1090.3" fill="none" stroke="#333" stroke-width="1"/>
<line x1="498.4" y1="1090.3" x2="498.4" y2="1131" stroke="#000" stroke-width="2"/>
<rect x="498" y="1130" width="5" height="45" fill="#000"/>
<rect x="333" y="1170" width="170" height="5" fill="#000"/>
<rect x="372.8" y="1170" width="71.8" height="5" fill="#fff"/>
<rect x="372.8" y="1169.2" width="71.8" height="1.1" fill="#5a5a5a"/>
<rect x="372.8" y="1171.8" width="71.8" height="1.4" fill="#9a9a9a"/>
<rect x="372.8" y="1174.7" width="71.8" height="1.1" fill="#5a5a5a"/>
<line x1="372.8" y1="1167.7" x2="372.8" y2="1177.3" stroke="#555" stroke-width="1"/>
<line x1="408.6" y1="1167.7" x2="408.6" y2="1177.3" stroke="#555" stroke-width="1"/>
<line x1="444.6" y1="1167.7" x2="444.6" y2="1177.3" stroke="#555" stroke-width="1"/>
<polyline points="338,1111.8 343.6,1111.8 343.6,1140 338,1140" fill="none" stroke="#555" stroke-width="1" stroke-linejoin="miter"/>
<text x="347" y="1126" font-size="7.5" text-anchor="middle" fill="#111" transform="rotate(90 347 1126)">AC</text>
<text x="418.2" y="1102.3" font-size="11.8" text-anchor="middle" fill="#111">BEDROOM</text>
<text x="418.2" y="1115.8" font-size="11.8" text-anchor="middle" fill="#111">4.3 x 3.6</text>
<rect x="498" y="1130" width="69" height="6" fill="#000"/>
<rect x="504" y="1130" width="13" height="6" fill="#fff"/>
<rect x="504" y="1129.2" width="13" height="1.1" fill="#5a5a5a"/>
<rect x="504" y="1132.3" width="13" height="1.4" fill="#9a9a9a"/>
<rect x="504" y="1135.7" width="13" height="1.1" fill="#5a5a5a"/>
<line x1="504" y1="1127.7" x2="504" y2="1138.3" stroke="#555" stroke-width="1"/>
<line x1="517" y1="1127.7" x2="517" y2="1138.3" stroke="#555" stroke-width="1"/>
<rect x="518.5" y="1130" width="26.5" height="6" fill="#fff"/>
<line x1="545.4" y1="1108.3" x2="545.4" y2="1131" stroke="#000" stroke-width="2"/>
<path d="M545.4,1108.3 A22.20,22.20 0 0 0 518.2,1130.5" fill="none" stroke="#333" stroke-width="1"/>
<rect x="547" y="1130" width="16" height="6" fill="#fff"/>
<rect x="547" y="1129.2" width="16" height="1.1" fill="#5a5a5a"/>
<rect x="547" y="1132.3" width="16" height="1.4" fill="#9a9a9a"/>
<rect x="547" y="1135.7" width="16" height="1.1" fill="#5a5a5a"/>
<line x1="547" y1="1127.7" x2="547" y2="1138.3" stroke="#555" stroke-width="1"/>
<line x1="563" y1="1127.7" x2="563" y2="1138.3" stroke="#555" stroke-width="1"/>
<rect x="562.7" y="1130" width="4.3" height="45" fill="#000"/>
<text x="532.8" y="1097.2" font-size="11.8" text-anchor="middle" fill="#111">ENTRY</text>
<line x1="566.4" y1="1038.8" x2="726" y2="1038.8" stroke="#000" stroke-width="2"/>
<line x1="566.4" y1="1039" x2="566.4" y2="1060.5" stroke="#000" stroke-width="2"/>
<line x1="566.4" y1="1087" x2="593.7" y2="1087" stroke="#000" stroke-width="2"/>
<path d="M593.7,1087 A27.30,27.30 0 0 0 566.4,1060.5" fill="none" stroke="#333" stroke-width="1"/>
<line x1="566.4" y1="1087" x2="566.4" y2="1130" stroke="#000" stroke-width="2"/>
<rect x="562.7" y="1170.6" width="167.3" height="4.4" fill="#000"/>
<rect x="619.7" y="1170.6" width="65.1" height="4.4" fill="#fff"/>
<rect x="619.7" y="1169.8" width="65.1" height="1.1" fill="#5a5a5a"/>
<rect x="619.7" y="1172.1" width="65.1" height="1.4" fill="#9a9a9a"/>
<rect x="619.7" y="1174.7" width="65.1" height="1.1" fill="#5a5a5a"/>
<line x1="619.7" y1="1168.3" x2="619.7" y2="1177.3" stroke="#555" stroke-width="1"/>
<line x1="652.6" y1="1168.3" x2="652.6" y2="1177.3" stroke="#555" stroke-width="1"/>
<line x1="684.8" y1="1168.3" x2="684.8" y2="1177.3" stroke="#555" stroke-width="1"/>
<polyline points="725.3,1052.4 718.7,1052.4 718.7,1081.6 725.3,1081.6" fill="none" stroke="#555" stroke-width="1" stroke-linejoin="miter"/>
<text x="715" y="1067" font-size="7.5" text-anchor="middle" fill="#111" transform="rotate(-90 715 1067)">AC</text>
<text x="646.9" y="1102.2" font-size="11.8" text-anchor="middle" fill="#111">BEDROOM</text>
<text x="646.9" y="1116.3" font-size="11.8" text-anchor="middle" fill="#111">4.5 x 3.6</text>
<line x1="466.4" y1="1175" x2="466.4" y2="1237.5" stroke="#555" stroke-width="1.2"/>
<line x1="466.4" y1="1237.5" x2="601" y2="1237.5" stroke="#555" stroke-width="1.2"/>
<text x="534" y="1209.9" font-size="11.8" text-anchor="middle" fill="#111">PORCH</text>
<line x1="601.6" y1="1175" x2="601.6" y2="1212.6" stroke="#555" stroke-width="1"/>
<line x1="614.7" y1="1175" x2="614.7" y2="1212.6" stroke="#555" stroke-width="1"/>
<line x1="627" y1="1175" x2="627" y2="1212.6" stroke="#555" stroke-width="1"/>
<line x1="639.5" y1="1175" x2="639.5" y2="1212.6" stroke="#555" stroke-width="1"/>
<line x1="601.6" y1="1212.6" x2="653.8" y2="1212.6" stroke="#555" stroke-width="1"/>
<line x1="601.6" y1="1212.6" x2="601.6" y2="1237.5" stroke="#555" stroke-width="1"/>
<line x1="605" y1="1193" x2="636" y2="1193" stroke="#444" stroke-width="1"/>
<polyline points="609,1189.5 605,1193 609,1196.5" fill="none" stroke="#444" stroke-width="1" stroke-linejoin="miter"/>
<line x1="694.8" y1="1175" x2="694.8" y2="1212.6" stroke="#555" stroke-width="1"/>
<line x1="706.8" y1="1175" x2="706.8" y2="1212.6" stroke="#555" stroke-width="1"/>
<line x1="718.8" y1="1175" x2="718.8" y2="1212.6" stroke="#555" stroke-width="1"/>
<line x1="729.4" y1="1175" x2="729.4" y2="1212.6" stroke="#555" stroke-width="1"/>
<line x1="689" y1="1212.6" x2="729.4" y2="1212.6" stroke="#555" stroke-width="1"/>
<line x1="698.3" y1="1193.2" x2="727.3" y2="1193.2" stroke="#444" stroke-width="1"/>
<polyline points="702,1189.7 698.3,1193.2 702,1196.7" fill="none" stroke="#444" stroke-width="1" stroke-linejoin="miter"/>
<line x1="730.2" y1="1237" x2="759.6" y2="1237" stroke="#777" stroke-width="1"/>
<line x1="730.2" y1="1245.6" x2="759.6" y2="1245.6" stroke="#777" stroke-width="1"/>
<line x1="730.2" y1="1254" x2="759.6" y2="1254" stroke="#777" stroke-width="1"/>
<line x1="744.7" y1="1239.5" x2="744.7" y2="1252" stroke="#333" stroke-width="1"/>
<polyline points="741.5,1242.5 744.7,1239 747.9,1242.5" fill="none" stroke="#333" stroke-width="1" stroke-linejoin="miter"/>
<path d="M326.0,1209.7 L324.9,1209.3 L324.2,1208.8 L323.8,1208.3 L323.6,1207.9 L323.8,1207.4 L324.3,1207.0 L325.0,1206.7 L326.1,1206.3 L325.1,1205.8 L324.6,1205.3 L324.3,1204.9 L324.2,1204.4 L324.4,1204.1 L324.9,1203.8 L325.6,1203.5 L326.6,1203.4 L325.8,1202.7 L325.4,1202.1 L325.2,1201.6 L325.2,1201.1 L325.5,1200.7 L326.0,1200.4 L326.7,1200.2 L327.9,1200.3 L327.0,1199.5 L326.5,1198.9 L326.2,1198.4 L326.3,1198.1 L326.6,1197.8 L327.1,1197.7 L327.9,1197.8 L328.6,1197.8 L328.3,1197.0 L328.2,1196.4 L328.3,1195.8 L328.5,1195.4 L328.9,1195.0 L329.4,1194.7 L330.1,1194.6 L331.1,1194.8 L330.7,1193.8 L330.6,1193.0 L330.7,1192.4 L331.0,1191.9 L331.5,1191.7 L332.1,1191.6 L332.9,1191.7 L333.8,1192.0 L333.6,1191.1 L333.7,1190.4 L333.9,1189.8 L334.2,1189.5 L334.7,1189.3 L335.2,1189.3 L335.9,1189.5 L336.8,1190.1 L336.6,1189.1 L336.6,1188.4 L336.7,1187.9 L336.9,1187.7 L337.3,1187.6 L337.7,1187.8 L338.3,1188.2 L338.8,1188.6 L338.9,1187.9 L339.2,1187.4 L339.5,1187.0 L339.9,1186.8 L340.3,1186.7 L340.8,1186.8 L341.3,1187.0 L342.0,1188.0 L342.1,1186.9 L342.3,1186.1 L342.5,1185.6 L342.9,1185.4 L343.3,1185.4 L343.7,1185.8 L344.2,1186.4 L344.6,1186.9 L344.9,1186.3 L345.2,1185.8 L345.5,1185.6 L345.9,1185.5 L346.2,1185.5 L346.6,1185.7 L346.9,1186.1 L347.3,1186.7 L347.8,1186.1 L348.4,1185.6 L349.0,1185.4 L349.5,1185.4 L350.1,1185.5 L350.6,1185.8 L351.1,1186.3 L351.5,1187.5 L352.2,1186.5 L352.9,1185.9 L353.5,1185.6 L354.1,1185.6 L354.7,1185.9 L355.1,1186.5 L355.4,1187.3 L355.5,1188.6 L356.2,1187.6 L356.8,1187.0 L357.2,1186.7 L357.5,1186.6 L357.8,1186.9 L357.8,1187.5 L357.8,1188.3 L357.7,1189.1 L358.5,1188.6 L359.2,1188.4 L359.8,1188.3 L360.4,1188.5 L360.8,1188.9 L361.0,1189.5 L361.2,1190.2 L361.1,1191.2 L362.0,1190.8 L362.6,1190.6 L363.2,1190.7 L363.6,1190.9 L363.9,1191.3 L364.0,1191.8 L364.0,1192.5 L363.8,1193.3 L364.6,1193.1 L365.2,1193.0 L365.6,1193.1 L366.0,1193.4 L366.2,1193.7 L366.2,1194.2 L366.1,1194.8 L365.8,1195.5 L366.5,1195.3 L367.1,1195.4 L367.6,1195.5 L367.8,1195.7 L368.0,1196.1 L367.9,1196.6 L367.7,1197.1 L367.1,1197.9 L368.1,1197.8 L368.9,1197.9 L369.4,1198.2 L369.8,1198.6 L369.9,1199.1 L369.7,1199.6 L369.4,1200.3 L368.9,1201.0 L369.7,1201.1 L370.2,1201.4 L370.6,1201.7 L370.8,1202.0 L370.8,1202.5 L370.7,1202.9 L370.4,1203.4 L369.9,1204.0 L370.6,1204.3 L371.1,1204.7 L371.4,1205.1 L371.6,1205.5 L371.6,1206.0 L371.4,1206.5 L371.1,1207.0 L370.2,1207.6 L371.1,1208.0 L371.7,1208.4 L372.0,1208.9 L372.1,1209.4 L372.0,1209.8 L371.6,1210.3 L371.1,1210.7 L370.4,1211.2 L371.0,1211.5 L371.4,1211.9 L371.6,1212.2 L371.7,1212.5 L371.5,1212.8 L371.2,1213.1 L370.8,1213.3 L369.7,1213.5 L370.6,1214.1 L371.1,1214.8 L371.3,1215.3 L371.3,1215.9 L371.1,1216.3 L370.5,1216.7 L369.8,1217.0 L368.6,1217.0 L369.4,1217.9 L369.8,1218.7 L370.0,1219.4 L369.9,1220.0 L369.5,1220.5 L368.8,1220.8 L367.9,1220.9 L366.7,1220.8 L367.3,1221.9 L367.6,1222.7 L367.6,1223.4 L367.4,1224.0 L366.9,1224.3 L366.2,1224.5 L365.3,1224.5 L364.3,1224.3 L364.7,1225.2 L364.8,1225.9 L364.7,1226.5 L364.4,1226.9 L364.0,1227.1 L363.4,1227.2 L362.7,1227.1 L361.9,1226.7 L362.1,1227.5 L362.2,1228.1 L362.2,1228.5 L362.0,1228.7 L361.7,1228.8 L361.3,1228.8 L360.8,1228.5 L360.1,1228.0 L360.3,1228.8 L360.3,1229.4 L360.3,1229.8 L360.1,1230.1 L359.8,1230.1 L359.4,1229.9 L358.9,1229.6 L358.4,1229.3 L358.4,1229.9 L358.3,1230.3 L358.1,1230.7 L357.8,1230.9 L357.5,1230.9 L357.1,1230.9 L356.7,1230.7 L356.0,1229.8 L355.9,1230.9 L355.6,1231.7 L355.2,1232.3 L354.7,1232.6 L354.1,1232.6 L353.4,1232.3 L352.8,1231.8 L352.1,1231.2 L351.9,1232.0 L351.6,1232.5 L351.3,1232.9 L350.9,1233.0 L350.5,1233.0 L350.2,1232.7 L349.8,1232.3 L349.3,1231.5 L349.0,1232.3 L348.7,1232.8 L348.3,1233.1 L347.9,1233.2 L347.5,1233.1 L347.1,1232.8 L346.8,1232.3 L346.4,1231.7 L345.9,1232.3 L345.3,1232.6 L344.7,1232.7 L344.2,1232.7 L343.6,1232.6 L343.2,1232.2 L342.7,1231.7 L342.4,1230.8 L341.9,1231.5 L341.4,1231.9 L340.9,1232.1 L340.5,1232.1 L340.2,1231.9 L340.0,1231.5 L339.8,1230.8 L339.8,1229.8 L339.1,1230.5 L338.4,1230.9 L337.9,1231.1 L337.4,1231.0 L337.1,1230.7 L336.9,1230.1 L336.8,1229.4 L336.8,1228.5 L336.0,1229.0 L335.4,1229.2 L334.9,1229.3 L334.5,1229.1 L334.2,1228.8 L334.1,1228.3 L334.1,1227.7 L334.5,1226.5 L333.5,1227.2 L332.9,1227.6 L332.3,1227.8 L332.0,1227.7 L331.9,1227.4 L332.0,1226.8 L332.2,1226.1 L332.7,1225.2 L331.7,1225.6 L330.9,1225.7 L330.3,1225.7 L329.9,1225.4 L329.7,1225.0 L329.7,1224.4 L329.9,1223.6 L330.2,1222.9 L329.3,1222.9 L328.7,1222.7 L328.2,1222.5 L327.8,1222.1 L327.6,1221.6 L327.6,1221.0 L327.7,1220.3 L328.3,1219.4 L327.3,1219.6 L326.7,1219.5 L326.2,1219.4 L326.0,1219.1 L325.9,1218.8 L326.1,1218.3 L326.5,1217.8 L327.5,1217.1 L326.3,1217.2 L325.5,1217.1 L325.0,1217.0 L324.7,1216.7 L324.8,1216.3 L325.1,1215.8 L325.7,1215.3 L326.5,1214.8 L325.5,1214.6 L324.9,1214.4 L324.4,1214.0 L324.2,1213.7 L324.3,1213.2 L324.6,1212.8 L325.1,1212.3 L326.0,1211.8 L325.0,1211.7 L324.4,1211.4 L324.0,1211.2 L323.8,1210.9 L323.9,1210.6 L324.3,1210.3 L324.9,1210.0Z" fill="#fff" stroke="#777" stroke-width="0.9" stroke-linejoin="round"/>
<path d="M281.1,1194.8 C281.7,1194.2 280.9,1190.7 281.6,1190.2 C282.2,1189.6 284.4,1192.2 285.0,1191.5 C285.5,1190.8 284.0,1186.3 284.6,1185.8 C285.3,1185.4 288.2,1189.4 288.8,1188.8 C289.3,1188.3 287.5,1183.1 287.9,1182.5 C288.2,1182.0 290.0,1185.8 291.0,1185.5 C292.1,1185.1 293.2,1181.1 294.2,1180.5 C295.1,1180.0 296.0,1182.3 296.7,1182.1 C297.4,1181.9 298.0,1179.4 298.5,1179.3 C299.1,1179.1 299.2,1181.3 300.0,1181.1 C300.8,1180.9 302.6,1177.9 303.5,1177.9 C304.3,1177.9 304.2,1181.1 305.3,1180.9 C306.4,1180.7 309.1,1176.6 310.2,1176.4 C311.3,1176.2 311.1,1179.4 311.9,1179.6 C312.7,1179.8 314.3,1177.7 314.9,1177.8 C315.6,1177.9 314.7,1180.0 315.6,1180.1 C316.4,1180.3 319.4,1178.4 320.2,1178.7 C321.0,1179.1 319.6,1181.9 320.6,1182.2 C321.6,1182.4 325.4,1179.6 326.2,1180.1 C327.0,1180.5 324.6,1184.8 325.4,1185.1 C326.1,1185.3 330.0,1181.3 330.5,1181.5 C331.1,1181.6 328.3,1185.3 328.8,1185.9 C329.4,1186.5 333.4,1184.6 334.0,1185.1 C334.7,1185.6 331.9,1188.0 332.6,1188.7 C333.4,1189.4 337.9,1188.6 338.5,1189.4 C339.1,1190.2 335.7,1192.5 336.4,1193.2 C337.1,1193.9 341.8,1193.1 342.4,1193.7 C343.0,1194.3 339.8,1195.7 340.2,1196.7 C340.5,1197.7 344.2,1198.8 344.5,1199.7 C344.8,1200.7 341.5,1201.8 342.0,1202.5 C342.4,1203.2 346.7,1203.4 347.1,1204.0 C347.4,1204.6 343.9,1205.2 344.0,1205.9 C344.0,1206.7 347.3,1207.9 347.3,1208.6 C347.3,1209.3 343.7,1209.6 344.0,1210.2 C344.2,1210.9 348.7,1212.1 348.7,1212.8 C348.6,1213.4 343.5,1213.1 343.6,1214.0 C343.7,1214.9 349.0,1217.3 349.3,1218.2 C349.5,1219.1 345.6,1218.1 345.1,1219.2 C344.6,1220.3 346.7,1223.7 346.3,1224.8 C345.9,1225.9 342.9,1224.5 342.7,1225.5 C342.5,1226.6 345.4,1230.3 345.1,1231.1 C344.7,1231.9 341.1,1229.6 340.6,1230.5 C340.0,1231.5 342.3,1236.0 341.9,1237.0 C341.5,1237.9 338.8,1235.6 338.1,1236.2 C337.4,1236.9 338.2,1240.2 337.7,1240.8 C337.1,1241.3 335.5,1239.0 334.8,1239.7 C334.0,1240.4 334.1,1244.7 333.2,1245.1 C332.3,1245.6 329.8,1241.8 329.3,1242.4 C328.7,1243.1 330.5,1248.7 330.0,1249.0 C329.5,1249.4 326.9,1244.0 326.2,1244.3 C325.5,1244.7 326.3,1250.7 325.7,1251.2 C325.2,1251.8 324.1,1247.7 323.0,1247.8 C322.0,1247.8 320.4,1251.4 319.4,1251.5 C318.5,1251.6 318.2,1248.0 317.1,1248.3 C316.1,1248.7 314.1,1253.7 313.2,1253.8 C312.2,1253.8 312.3,1248.5 311.3,1248.6 C310.3,1248.7 308.2,1254.1 307.4,1254.3 C306.6,1254.5 307.1,1250.2 306.4,1249.8 C305.7,1249.5 303.7,1252.6 303.1,1252.4 C302.6,1252.1 303.7,1248.6 302.9,1248.5 C302.2,1248.5 299.3,1252.0 298.5,1252.0 C297.8,1252.0 299.1,1248.9 298.4,1248.5 C297.8,1248.0 295.2,1249.7 294.6,1249.3 C294.0,1248.9 295.6,1246.6 294.8,1246.3 C294.1,1246.0 290.7,1248.1 290.2,1247.7 C289.6,1247.2 292.3,1244.2 291.4,1243.6 C290.4,1243.1 285.4,1245.0 284.6,1244.4 C283.8,1243.8 287.0,1240.5 286.4,1239.9 C285.8,1239.3 281.4,1241.2 281.0,1240.6 C280.6,1240.1 284.6,1237.6 283.9,1236.7 C283.2,1235.9 277.6,1236.3 276.8,1235.5 C276.0,1234.8 279.4,1233.3 279.1,1232.1 C278.8,1230.9 275.2,1229.5 274.8,1228.4 C274.4,1227.4 277.3,1226.6 276.9,1225.9 C276.6,1225.2 272.9,1224.7 272.9,1224.1 C272.9,1223.5 277.3,1223.0 277.0,1222.2 C276.7,1221.4 271.2,1220.2 271.0,1219.4 C270.8,1218.7 275.7,1218.7 275.8,1217.7 C275.8,1216.8 271.4,1214.6 271.4,1213.8 C271.3,1212.9 275.4,1213.3 275.5,1212.6 C275.6,1211.9 271.9,1210.1 272.0,1209.5 C272.0,1209.0 275.6,1210.0 275.8,1209.2 C276.0,1208.4 272.7,1205.4 273.1,1204.6 C273.5,1203.9 277.8,1206.0 278.1,1204.8 C278.3,1203.7 274.2,1198.8 274.5,1197.7 C274.8,1196.7 279.3,1199.2 279.9,1198.5 C280.4,1197.9 277.5,1194.4 277.7,1193.8 C277.9,1193.2 280.4,1195.4 281.1,1194.8Z" fill="#fff" stroke="#777" stroke-width="0.9" stroke-linejoin="round"/>
<path d="M398.6,1187.0 L399.1,1186.2 L399.5,1185.8 L400.0,1185.5 L400.4,1185.5 L400.8,1185.7 L401.2,1186.1 L401.4,1186.6 L401.6,1187.9 L402.3,1186.9 L402.9,1186.3 L403.4,1186.0 L403.9,1186.0 L404.3,1186.3 L404.6,1186.9 L404.7,1187.7 L404.8,1188.6 L405.6,1188.0 L406.4,1187.8 L407.0,1187.8 L407.5,1187.9 L408.0,1188.3 L408.3,1188.8 L408.5,1189.5 L408.3,1190.9 L409.3,1190.1 L410.1,1189.7 L410.7,1189.6 L411.1,1189.7 L411.4,1190.1 L411.4,1190.7 L411.2,1191.6 L410.8,1192.7 L411.9,1192.1 L412.7,1191.9 L413.3,1191.9 L413.7,1192.1 L413.9,1192.5 L413.9,1193.1 L413.6,1193.9 L413.5,1194.5 L414.2,1194.5 L414.8,1194.7 L415.2,1194.9 L415.5,1195.2 L415.7,1195.6 L415.8,1196.1 L415.8,1196.7 L415.4,1197.4 L416.2,1197.3 L416.7,1197.4 L417.1,1197.6 L417.3,1197.8 L417.4,1198.1 L417.3,1198.6 L417.1,1199.1 L416.2,1199.9 L417.4,1199.7 L418.2,1199.8 L418.8,1200.1 L419.1,1200.4 L419.1,1200.9 L418.9,1201.5 L418.3,1202.1 L417.6,1202.7 L418.6,1202.9 L419.2,1203.2 L419.7,1203.6 L419.9,1204.0 L419.9,1204.5 L419.6,1205.0 L419.1,1205.6 L418.0,1206.2 L419.3,1206.5 L420.1,1207.0 L420.6,1207.5 L420.8,1208.0 L420.6,1208.5 L420.2,1209.0 L419.4,1209.6 L418.6,1210.0 L419.4,1210.4 L419.9,1210.7 L420.2,1211.0 L420.3,1211.3 L420.1,1211.6 L419.8,1211.9 L419.2,1212.1 L418.7,1212.4 L419.2,1212.8 L419.5,1213.2 L419.6,1213.6 L419.6,1214.0 L419.5,1214.3 L419.2,1214.6 L418.7,1214.9 L417.7,1215.0 L418.5,1215.5 L419.0,1216.0 L419.3,1216.4 L419.3,1216.7 L419.1,1217.0 L418.7,1217.2 L418.0,1217.2 L416.9,1217.1 L417.7,1218.0 L418.1,1218.7 L418.3,1219.4 L418.2,1219.9 L417.8,1220.3 L417.2,1220.6 L416.3,1220.7 L415.5,1220.8 L415.9,1221.6 L416.0,1222.2 L415.9,1222.8 L415.7,1223.2 L415.4,1223.6 L414.9,1223.8 L414.2,1223.9 L413.5,1223.9 L413.7,1224.5 L413.8,1224.9 L413.8,1225.3 L413.6,1225.6 L413.4,1225.7 L413.0,1225.8 L412.5,1225.7 L411.8,1225.3 L411.9,1226.3 L411.8,1227.0 L411.6,1227.6 L411.2,1228.0 L410.7,1228.3 L410.0,1228.4 L409.3,1228.3 L408.2,1227.6 L408.3,1228.9 L408.3,1229.9 L408.0,1230.6 L407.5,1231.0 L407.0,1231.1 L406.2,1230.9 L405.4,1230.4 L404.5,1229.7 L404.5,1230.8 L404.3,1231.6 L403.9,1232.2 L403.5,1232.4 L403.0,1232.5 L402.4,1232.2 L401.8,1231.6 L401.2,1231.2 L400.9,1231.9 L400.6,1232.3 L400.2,1232.7 L399.7,1232.8 L399.2,1232.8 L398.8,1232.6 L398.3,1232.3 L397.8,1231.6 L397.5,1232.3 L397.2,1232.8 L396.9,1233.1 L396.6,1233.2 L396.2,1233.1 L395.9,1232.8 L395.6,1232.3 L395.3,1231.7 L395.0,1232.3 L394.7,1232.7 L394.4,1232.9 L394.1,1232.9 L393.8,1232.8 L393.6,1232.6 L393.4,1232.2 L393.2,1231.6 L392.7,1232.1 L392.2,1232.4 L391.7,1232.5 L391.3,1232.5 L390.8,1232.3 L390.5,1232.0 L390.2,1231.5 L390.1,1230.3 L389.5,1231.3 L389.0,1231.9 L388.6,1232.2 L388.2,1232.2 L388.0,1232.0 L387.9,1231.5 L387.9,1230.7 L387.8,1230.0 L387.3,1230.5 L386.8,1230.8 L386.4,1230.9 L386.0,1230.8 L385.8,1230.6 L385.6,1230.2 L385.5,1229.7 L385.7,1228.7 L384.9,1229.3 L384.3,1229.7 L383.8,1229.8 L383.5,1229.7 L383.2,1229.4 L383.1,1228.9 L383.2,1228.2 L383.4,1227.4 L382.7,1227.9 L382.1,1228.2 L381.7,1228.2 L381.4,1228.2 L381.2,1227.9 L381.2,1227.4 L381.3,1226.9 L381.6,1226.2 L380.8,1226.4 L380.2,1226.4 L379.8,1226.3 L379.4,1226.1 L379.2,1225.8 L379.1,1225.3 L379.1,1224.7 L379.6,1223.7 L378.6,1224.1 L377.8,1224.2 L377.2,1224.1 L376.9,1223.8 L376.7,1223.4 L376.8,1222.9 L377.1,1222.1 L377.4,1221.5 L376.6,1221.4 L376.0,1221.1 L375.5,1220.8 L375.2,1220.4 L375.0,1219.9 L375.0,1219.3 L375.2,1218.7 L375.9,1217.8 L374.8,1217.8 L374.1,1217.6 L373.6,1217.3 L373.3,1216.9 L373.3,1216.5 L373.5,1216.0 L374.0,1215.4 L374.5,1214.8 L373.8,1214.5 L373.3,1214.2 L373.0,1213.7 L372.8,1213.3 L372.8,1212.8 L373.0,1212.3 L373.3,1211.8 L374.1,1211.3 L373.2,1210.9 L372.7,1210.6 L372.3,1210.1 L372.2,1209.7 L372.3,1209.3 L372.6,1208.8 L373.2,1208.4 L373.9,1208.1 L373.2,1207.6 L372.8,1207.1 L372.6,1206.6 L372.6,1206.1 L372.7,1205.6 L373.1,1205.2 L373.6,1204.8 L374.4,1204.5 L373.8,1203.9 L373.4,1203.4 L373.2,1203.0 L373.3,1202.5 L373.5,1202.2 L373.9,1201.9 L374.4,1201.6 L375.7,1201.7 L374.7,1200.9 L374.1,1200.3 L373.8,1199.8 L373.8,1199.4 L374.1,1199.1 L374.7,1199.0 L375.6,1199.0 L376.7,1199.2 L376.0,1198.2 L375.7,1197.3 L375.6,1196.6 L375.8,1196.0 L376.2,1195.6 L376.9,1195.4 L377.8,1195.3 L378.7,1195.3 L378.5,1194.4 L378.5,1193.7 L378.7,1193.1 L379.0,1192.6 L379.5,1192.2 L380.1,1192.0 L380.8,1192.0 L382.0,1192.5 L381.7,1191.3 L381.6,1190.4 L381.8,1189.7 L382.1,1189.3 L382.7,1189.1 L383.4,1189.2 L384.2,1189.5 L384.9,1189.8 L385.0,1189.0 L385.2,1188.4 L385.6,1187.9 L386.0,1187.6 L386.4,1187.5 L387.0,1187.5 L387.6,1187.7 L388.3,1188.3 L388.4,1187.5 L388.6,1186.8 L388.8,1186.4 L389.2,1186.2 L389.5,1186.2 L390.0,1186.4 L390.5,1186.8 L391.1,1187.8 L391.2,1186.7 L391.3,1185.9 L391.6,1185.4 L391.9,1185.2 L392.3,1185.3 L392.7,1185.6 L393.2,1186.3 L393.6,1187.2 L393.8,1186.2 L394.1,1185.6 L394.5,1185.1 L394.8,1185.0 L395.2,1185.1 L395.6,1185.5 L396.0,1186.1 L396.3,1186.6 L396.6,1186.0 L396.9,1185.7 L397.2,1185.5 L397.5,1185.4 L397.8,1185.5 L398.1,1185.7 L398.4,1186.1Z" fill="#fff" stroke="#777" stroke-width="0.9" stroke-linejoin="round"/>
<path d="M428.6,1224.2 L427.9,1224.2 L427.4,1224.1 L426.9,1223.9 L426.6,1223.6 L426.4,1223.3 L426.3,1222.8 L426.4,1222.2 L427.0,1221.3 L425.9,1221.5 L425.1,1221.4 L424.5,1221.2 L424.1,1220.8 L424.0,1220.3 L424.2,1219.7 L424.5,1219.0 L425.5,1218.0 L424.2,1218.1 L423.3,1217.9 L422.7,1217.6 L422.3,1217.2 L422.3,1216.7 L422.6,1216.1 L423.2,1215.4 L424.3,1214.6 L423.0,1214.6 L422.2,1214.5 L421.7,1214.2 L421.4,1213.9 L421.5,1213.6 L422.0,1213.2 L422.7,1212.7 L423.6,1212.3 L422.6,1212.1 L421.9,1211.9 L421.5,1211.7 L421.3,1211.4 L421.4,1211.1 L421.8,1210.8 L422.4,1210.4 L423.2,1210.1 L422.4,1209.8 L421.9,1209.4 L421.6,1209.0 L421.5,1208.6 L421.6,1208.2 L421.9,1207.8 L422.4,1207.4 L423.2,1207.1 L422.5,1206.7 L422.0,1206.2 L421.8,1205.8 L421.7,1205.5 L421.9,1205.1 L422.3,1204.8 L422.8,1204.5 L423.9,1204.4 L423.0,1203.7 L422.6,1203.0 L422.3,1202.4 L422.4,1201.8 L422.7,1201.3 L423.2,1201.0 L424.0,1200.7 L425.1,1200.6 L424.4,1199.8 L424.0,1199.1 L423.9,1198.4 L424.0,1197.9 L424.4,1197.5 L424.9,1197.3 L425.7,1197.2 L426.5,1197.1 L426.2,1196.4 L426.2,1195.8 L426.2,1195.3 L426.5,1194.8 L426.8,1194.5 L427.3,1194.3 L427.9,1194.2 L428.7,1194.3 L428.5,1193.5 L428.5,1192.9 L428.6,1192.4 L428.9,1192.0 L429.3,1191.7 L429.8,1191.6 L430.4,1191.7 L431.3,1192.0 L431.1,1191.1 L431.2,1190.4 L431.4,1189.8 L431.8,1189.5 L432.2,1189.3 L432.8,1189.3 L433.5,1189.4 L434.3,1190.0 L434.2,1189.0 L434.2,1188.4 L434.3,1187.9 L434.6,1187.7 L434.9,1187.6 L435.4,1187.8 L435.9,1188.2 L436.6,1189.1 L436.6,1187.9 L436.7,1187.1 L436.9,1186.5 L437.3,1186.2 L437.7,1186.2 L438.3,1186.5 L438.9,1187.1 L439.5,1187.8 L439.6,1186.8 L439.8,1186.2 L440.0,1185.8 L440.3,1185.6 L440.7,1185.7 L441.1,1185.9 L441.5,1186.4 L441.9,1186.9 L442.4,1186.3 L442.9,1185.8 L443.4,1185.6 L444.0,1185.5 L444.5,1185.5 L445.1,1185.7 L445.7,1186.0 L446.2,1187.2 L446.5,1186.1 L446.8,1185.4 L447.2,1185.0 L447.5,1184.9 L447.8,1185.1 L448.1,1185.5 L448.3,1186.3 L448.5,1187.1 L449.1,1186.3 L449.7,1185.9 L450.3,1185.7 L450.8,1185.7 L451.4,1185.9 L451.8,1186.4 L452.2,1187.0 L452.4,1188.1 L452.9,1187.3 L453.4,1186.9 L453.8,1186.6 L454.2,1186.6 L454.4,1186.9 L454.6,1187.3 L454.6,1187.9 L454.6,1188.7 L455.3,1188.3 L456.0,1188.1 L456.5,1188.1 L457.0,1188.2 L457.4,1188.5 L457.7,1189.0 L457.9,1189.7 L457.8,1190.6 L458.6,1190.1 L459.2,1189.9 L459.7,1189.9 L460.1,1190.0 L460.4,1190.4 L460.5,1190.9 L460.4,1191.5 L460.2,1192.4 L461.0,1192.0 L461.6,1191.9 L462.2,1192.0 L462.5,1192.2 L462.7,1192.6 L462.8,1193.1 L462.7,1193.7 L462.1,1194.7 L463.3,1194.4 L464.2,1194.4 L464.8,1194.6 L465.3,1195.0 L465.5,1195.5 L465.4,1196.2 L465.2,1197.0 L464.9,1197.8 L465.6,1197.7 L466.1,1197.8 L466.4,1197.9 L466.6,1198.1 L466.7,1198.4 L466.6,1198.8 L466.4,1199.2 L465.7,1199.9 L466.6,1199.8 L467.3,1199.8 L467.7,1199.9 L467.9,1200.2 L467.9,1200.5 L467.7,1200.9 L467.3,1201.4 L466.8,1201.9 L467.6,1202.2 L468.1,1202.6 L468.5,1203.1 L468.7,1203.6 L468.8,1204.2 L468.7,1204.8 L468.3,1205.4 L467.4,1206.1 L468.5,1206.4 L469.1,1206.8 L469.6,1207.2 L469.7,1207.6 L469.6,1208.1 L469.3,1208.5 L468.6,1209.0 L468.1,1209.4 L468.7,1209.7 L469.0,1210.0 L469.2,1210.4 L469.3,1210.7 L469.2,1211.0 L468.9,1211.3 L468.5,1211.6 L467.8,1211.8 L468.4,1212.4 L468.8,1213.1 L469.0,1213.7 L468.9,1214.3 L468.7,1214.9 L468.3,1215.4 L467.7,1215.8 L466.8,1216.1 L467.3,1216.9 L467.6,1217.6 L467.7,1218.2 L467.5,1218.8 L467.2,1219.3 L466.7,1219.7 L466.0,1220.0 L464.8,1220.0 L465.5,1220.7 L465.9,1221.3 L466.1,1221.8 L466.0,1222.1 L465.7,1222.3 L465.2,1222.4 L464.5,1222.3 L463.9,1222.3 L464.2,1222.9 L464.2,1223.5 L464.1,1223.9 L463.9,1224.3 L463.6,1224.6 L463.2,1224.7 L462.6,1224.8 L461.7,1224.5 L462.1,1225.3 L462.3,1225.9 L462.3,1226.4 L462.1,1226.7 L461.8,1226.8 L461.3,1226.8 L460.7,1226.6 L460.0,1226.3 L460.2,1227.1 L460.2,1227.7 L460.0,1228.1 L459.8,1228.4 L459.4,1228.6 L459.0,1228.6 L458.4,1228.4 L457.7,1228.0 L457.7,1228.9 L457.5,1229.5 L457.3,1230.0 L456.9,1230.3 L456.4,1230.4 L455.9,1230.4 L455.2,1230.2 L454.5,1229.6 L454.5,1230.5 L454.4,1231.1 L454.2,1231.6 L453.9,1231.8 L453.6,1231.8 L453.2,1231.6 L452.7,1231.2 L452.0,1230.1 L451.9,1231.4 L451.6,1232.3 L451.2,1232.9 L450.8,1233.1 L450.2,1233.1 L449.6,1232.7 L449.0,1232.0 L448.4,1231.3 L448.3,1232.2 L448.0,1232.7 L447.8,1233.1 L447.5,1233.3 L447.2,1233.2 L446.8,1232.8 L446.5,1232.3 L446.2,1231.1 L445.9,1232.3 L445.6,1233.1 L445.2,1233.5 L444.9,1233.7 L444.5,1233.5 L444.2,1233.0 L443.9,1232.3 L443.6,1231.6 L443.1,1232.2 L442.5,1232.6 L441.9,1232.7 L441.4,1232.7 L440.9,1232.6 L440.4,1232.2 L440.0,1231.7 L439.8,1230.4 L439.1,1231.4 L438.5,1232.0 L437.9,1232.3 L437.5,1232.3 L437.2,1232.0 L436.9,1231.5 L436.8,1230.6 L436.8,1229.8 L436.1,1230.3 L435.5,1230.6 L435.0,1230.7 L434.6,1230.6 L434.2,1230.3 L434.0,1229.9 L433.9,1229.2 L433.9,1228.5 L433.2,1228.8 L432.6,1228.9 L432.0,1228.9 L431.6,1228.7 L431.3,1228.3 L431.0,1227.8 L430.9,1227.2 L431.3,1226.1 L430.3,1226.6 L429.5,1226.8 L428.9,1226.8 L428.5,1226.6 L428.3,1226.2 L428.3,1225.6 L428.5,1224.8Z" fill="#fff" stroke="#777" stroke-width="0.9" stroke-linejoin="round"/>
<path d="M276.6,1263 C290,1268 305,1266 320,1253 C332,1242 338,1238 350,1237.8 L466.4,1237.8" fill="none" stroke="#444" stroke-width="1.2"/>
<path d="M294.1,1519 L294.1,1487.7 Q294.1,1479.5 302.6,1477.1 C415.3,1402.7 559.4,1317.8 648.5,1212.4" fill="none" stroke="#333" stroke-width="1.2"/>
<path d="M332.3,1519 L332.3,1503.3 Q332.3,1499 340.8,1496.2 C466.9,1416.4 601.2,1336.3 689.3,1212.4" fill="none" stroke="#333" stroke-width="1.2"/>
<line x1="299.9" y1="1519" x2="299.9" y2="1492.6" stroke="#000" stroke-width="1.6"/>
<path d="M299.9,1492.6 A27,27 0 0 1 327,1519" fill="none" stroke="#333" stroke-width="1"/>
<circle cx="354" cy="1501" r="8.4" fill="none" stroke="#777" stroke-width="1"/>
<circle cx="397.4" cy="1491.9" r="8.4" fill="none" stroke="#777" stroke-width="1"/>
<circle cx="411.4" cy="1469" r="8.4" fill="none" stroke="#777" stroke-width="1"/>
<circle cx="458.2" cy="1436.7" r="12.5" fill="none" stroke="#777" stroke-width="1"/>
<circle cx="506.9" cy="1416.6" r="12.5" fill="none" stroke="#777" stroke-width="1"/>
<circle cx="511.4" cy="1492.6" r="8.4" fill="none" stroke="#777" stroke-width="1"/>
<circle cx="554" cy="1453" r="8.4" fill="none" stroke="#777" stroke-width="1"/>
<circle cx="595.9" cy="1413.9" r="8.4" fill="none" stroke="#777" stroke-width="1"/>
<circle cx="606.5" cy="1353" r="8.4" fill="none" stroke="#777" stroke-width="1"/>
<circle cx="628.6" cy="1492.6" r="12.5" fill="none" stroke="#777" stroke-width="1"/>
<circle cx="649.5" cy="1299" r="8.4" fill="none" stroke="#777" stroke-width="1"/>
<circle cx="659" cy="1336.7" r="8.4" fill="none" stroke="#777" stroke-width="1"/>
<circle cx="659" cy="1435.6" r="8.4" fill="none" stroke="#777" stroke-width="1"/>
<circle cx="607.3" cy="1240" r="8.4" fill="none" stroke="#777" stroke-width="1"/>
<circle cx="624.6" cy="1222.7" r="8.4" fill="none" stroke="#777" stroke-width="1"/>
<circle cx="692.9" cy="1244.9" r="8.4" fill="none" stroke="#777" stroke-width="1"/>
<rect x="688.7" y="1280.5" width="44.9" height="4.7" fill="#000"/>
<rect x="756.3" y="1280.5" width="54.4" height="4.7" fill="#000"/>
<rect x="688.7" y="1280.5" width="4.7" height="239.5" fill="#000"/>
<rect x="806" y="1280.5" width="4.7" height="239.5" fill="#000"/>
<rect x="688.7" y="1515.2" width="122.0" height="4.6" fill="#000"/>
<rect x="700.5" y="1515.2" width="98.4" height="5" fill="#fff" stroke="#999" stroke-width="1"/>
<line x1="700.5" y1="1515" x2="798.9" y2="1515" stroke="#444" stroke-width="1"/>
<line x1="733.6" y1="1282.8" x2="755" y2="1282.8" stroke="#444" stroke-width="1"/>
<polyline points="751.5,1279.5 755,1282.8 751.5,1286.1" fill="none" stroke="#444" stroke-width="1" stroke-linejoin="miter"/>
<path d="M719,1342 C719,1330 732,1324 750,1324 C768,1324 781,1330 781,1342 L781.5,1442 C781.5,1466 772,1476.5 750,1476.5 C728,1476.5 718.5,1466 718.5,1442 Z" fill="none" stroke="#b8b8b8" stroke-width="0.9"/>
<path d="M721.5,1344 C722,1334 734,1328.8 750,1328.8 C766,1328.8 778,1334 778.5,1344" fill="none" stroke="#b8b8b8" stroke-width="0.9"/>
<path d="M732.3,1333 C727,1345 725,1360 724.9,1372 M767.7,1333 C773,1345 775,1360 775.1,1372" fill="none" stroke="#b8b8b8" stroke-width="0.9"/>
<path d="M723.8,1375 C735,1362 765,1362 776.2,1375" fill="none" stroke="#b8b8b8" stroke-width="0.9"/>
<path d="M727.5,1380 C737,1369 763,1369 772.5,1380" fill="none" stroke="#b8b8b8" stroke-width="0.9"/>
<path d="M727.5,1380 L729,1434 L723,1434 M772.5,1380 L771,1434 L777,1434" fill="none" stroke="#b8b8b8" stroke-width="0.9"/>
<path d="M727,1441 C740,1439 760,1439 773,1441 C772,1455 764,1460 750,1460 C736,1460 728,1455 727,1441 Z" fill="none" stroke="#b8b8b8" stroke-width="0.9"/>
<path d="M725,1452 C727,1468 736,1472.3 750,1472.3 C764,1472.3 773,1468 775,1452" fill="none" stroke="#b8b8b8" stroke-width="0.9"/>
<path d="M717.5,1389 L724,1383.5 M782.5,1389 L776,1383.5" fill="none" stroke="#b8b8b8" stroke-width="0.9"/>
<path d="M721.5,1344 L721,1375 M778.5,1344 L779,1375 M720.5,1395 L721,1440 M779.5,1395 L779,1440" fill="none" stroke="#b8b8b8" stroke-width="0.9"/>
<text x="749.7" y="1396.3" font-size="11.8" text-anchor="middle" fill="#111">GARAGE</text>
<text x="749.7" y="1410.1" font-size="11.8" text-anchor="middle" fill="#111">3.0 x 5.9</text>
<circle cx="878.5" cy="1468.5" r="26.2" fill="none" stroke="#666" stroke-width="1.2"/>
<line x1="875.4" y1="1442.3" x2="881.4" y2="1494.8" stroke="#777" stroke-width="1.1"/>
<line x1="852.3" y1="1471.4" x2="878.5" y2="1468.5" stroke="#777" stroke-width="1.1"/>
<polygon points="878,1462.2 904.4,1465.4 879.4,1475" fill="#000" stroke="#000" stroke-width="1" stroke-linejoin="miter"/>
<text x="915.2" y="1469.2" font-size="14.3" text-anchor="middle" fill="#111">N</text>
<text x="565.5" y="68.8" font-size="37.9" text-anchor="middle" fill="#111">17 ARCHER AVENUE, ASCOT VALE</text>
<text x="565.5" y="1555" font-size="15.2" text-anchor="middle" fill="#111">Disclaimer: Please note plans are indicative only and not drawn to exact scale. All dimensions are approximate.</text>
<text x="565.5" y="1572.7" font-size="15.2" text-anchor="middle" fill="#111">Potential buyers should satisfy themselves of any pertinent matters.</text>
</svg>
</body></html>
